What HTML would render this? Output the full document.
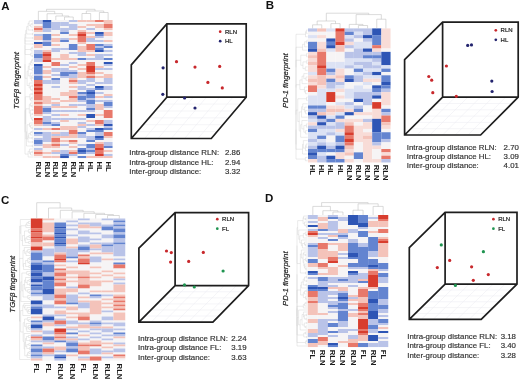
<!DOCTYPE html>
<html><head><meta charset="utf-8"><title>Figure</title>
<style>
html,body{margin:0;padding:0;background:#fff;}
body{width:520px;height:379px;overflow:hidden;}
svg{display:block;will-change:transform;}
text{font-family:"Liberation Sans",sans-serif;}
</style></head>
<body>
<svg width="520" height="379" viewBox="0 0 520 379" shape-rendering="auto">
<defs><filter id="hb" x="-5%" y="-5%" width="110%" height="110%"><feGaussianBlur stdDeviation="0.45"/></filter></defs>
<rect width="520" height="379" fill="#fff"/>
<g filter="url(#hb)"><rect x="34.00" y="20.00" width="8.77" height="4.05" fill="#b9c3e8"/>
<rect x="34.00" y="24.00" width="8.77" height="2.05" fill="#f6f4f5"/>
<rect x="34.00" y="26.00" width="8.77" height="2.05" fill="#f4c3ba"/>
<rect x="34.00" y="28.00" width="8.77" height="2.05" fill="#e8786a"/>
<rect x="34.00" y="30.00" width="8.77" height="2.05" fill="#f4c3ba"/>
<rect x="34.00" y="32.00" width="8.77" height="2.05" fill="#f6f4f5"/>
<rect x="34.00" y="34.00" width="8.77" height="2.05" fill="#b9c3e8"/>
<rect x="34.00" y="36.00" width="8.77" height="4.05" fill="#f4c3ba"/>
<rect x="34.00" y="40.00" width="8.77" height="2.05" fill="#f6f4f5"/>
<rect x="34.00" y="42.00" width="8.77" height="2.05" fill="#2d55b5"/>
<rect x="34.00" y="44.00" width="8.77" height="4.05" fill="#f4c3ba"/>
<rect x="34.00" y="48.00" width="8.77" height="2.05" fill="#f6f4f5"/>
<rect x="34.00" y="50.00" width="8.77" height="4.05" fill="#b9c3e8"/>
<rect x="34.00" y="54.00" width="8.77" height="4.05" fill="#6384d0"/>
<rect x="34.00" y="58.00" width="8.77" height="4.05" fill="#b9c3e8"/>
<rect x="34.00" y="62.00" width="8.77" height="2.05" fill="#f6f4f5"/>
<rect x="34.00" y="64.00" width="8.77" height="2.05" fill="#2d55b5"/>
<rect x="34.00" y="66.00" width="8.77" height="8.05" fill="#6384d0"/>
<rect x="34.00" y="74.00" width="8.77" height="2.05" fill="#b9c3e8"/>
<rect x="34.00" y="76.00" width="8.77" height="4.05" fill="#6384d0"/>
<rect x="34.00" y="80.00" width="8.77" height="4.05" fill="#e8786a"/>
<rect x="34.00" y="84.00" width="8.77" height="2.05" fill="#d83e2d"/>
<rect x="34.00" y="86.00" width="8.77" height="2.05" fill="#e8786a"/>
<rect x="34.00" y="88.00" width="8.77" height="2.05" fill="#d83e2d"/>
<rect x="34.00" y="90.00" width="8.77" height="2.05" fill="#e8786a"/>
<rect x="34.00" y="92.00" width="8.77" height="2.05" fill="#d83e2d"/>
<rect x="34.00" y="94.00" width="8.77" height="6.05" fill="#e8786a"/>
<rect x="34.00" y="100.00" width="8.77" height="2.05" fill="#f4c3ba"/>
<rect x="34.00" y="102.00" width="8.77" height="2.05" fill="#e8786a"/>
<rect x="34.00" y="104.00" width="8.77" height="2.05" fill="#f4c3ba"/>
<rect x="34.00" y="106.00" width="8.77" height="8.05" fill="#e8786a"/>
<rect x="34.00" y="114.00" width="8.77" height="2.05" fill="#f4c3ba"/>
<rect x="34.00" y="116.00" width="8.77" height="2.05" fill="#f6f4f5"/>
<rect x="34.00" y="118.00" width="8.77" height="2.05" fill="#d83e2d"/>
<rect x="34.00" y="120.00" width="8.77" height="4.05" fill="#e8786a"/>
<rect x="34.00" y="124.00" width="8.77" height="2.05" fill="#f4c3ba"/>
<rect x="34.00" y="126.00" width="8.77" height="2.05" fill="#f6f4f5"/>
<rect x="34.00" y="128.00" width="8.77" height="2.05" fill="#b9c3e8"/>
<rect x="34.00" y="130.00" width="8.77" height="2.05" fill="#f6f4f5"/>
<rect x="34.00" y="132.00" width="8.77" height="2.05" fill="#6384d0"/>
<rect x="34.00" y="134.00" width="8.77" height="2.05" fill="#b9c3e8"/>
<rect x="34.00" y="136.00" width="8.77" height="2.05" fill="#f6f4f5"/>
<rect x="34.00" y="138.00" width="8.77" height="2.05" fill="#b9c3e8"/>
<rect x="34.00" y="140.00" width="8.77" height="4.05" fill="#6384d0"/>
<rect x="34.00" y="144.00" width="8.77" height="2.05" fill="#b9c3e8"/>
<rect x="34.00" y="146.00" width="8.77" height="2.05" fill="#f6f4f5"/>
<rect x="34.00" y="148.00" width="8.77" height="2.05" fill="#b9c3e8"/>
<rect x="34.00" y="150.00" width="8.77" height="2.05" fill="#f4c3ba"/>
<rect x="34.00" y="152.00" width="8.77" height="2.05" fill="#e8786a"/>
<rect x="34.00" y="154.00" width="8.77" height="2.05" fill="#f4c3ba"/>
<rect x="34.00" y="156.00" width="8.77" height="2.05" fill="#f6f4f5"/>
<rect x="42.72" y="20.00" width="8.77" height="2.05" fill="#2d55b5"/>
<rect x="42.72" y="22.00" width="8.77" height="6.05" fill="#6384d0"/>
<rect x="42.72" y="28.00" width="8.77" height="4.05" fill="#b9c3e8"/>
<rect x="42.72" y="32.00" width="8.77" height="2.05" fill="#f6f4f5"/>
<rect x="42.72" y="34.00" width="8.77" height="6.05" fill="#6384d0"/>
<rect x="42.72" y="40.00" width="8.77" height="2.05" fill="#b9c3e8"/>
<rect x="42.72" y="42.00" width="8.77" height="4.05" fill="#6384d0"/>
<rect x="42.72" y="46.00" width="8.77" height="4.05" fill="#f6f4f5"/>
<rect x="42.72" y="50.00" width="8.77" height="2.05" fill="#f4c3ba"/>
<rect x="42.72" y="52.00" width="8.77" height="2.05" fill="#e8786a"/>
<rect x="42.72" y="54.00" width="8.77" height="2.05" fill="#d83e2d"/>
<rect x="42.72" y="56.00" width="8.77" height="4.05" fill="#e8786a"/>
<rect x="42.72" y="60.00" width="8.77" height="2.05" fill="#d83e2d"/>
<rect x="42.72" y="62.00" width="8.77" height="4.05" fill="#f6f4f5"/>
<rect x="42.72" y="66.00" width="8.77" height="2.05" fill="#f4c3ba"/>
<rect x="42.72" y="68.00" width="8.77" height="2.05" fill="#f6f4f5"/>
<rect x="42.72" y="70.00" width="8.77" height="4.05" fill="#f4c3ba"/>
<rect x="42.72" y="74.00" width="8.77" height="2.05" fill="#f6f4f5"/>
<rect x="42.72" y="76.00" width="8.77" height="2.05" fill="#f4c3ba"/>
<rect x="42.72" y="78.00" width="8.77" height="2.05" fill="#f6f4f5"/>
<rect x="42.72" y="80.00" width="8.77" height="4.05" fill="#b9c3e8"/>
<rect x="42.72" y="84.00" width="8.77" height="12.05" fill="#f6f4f5"/>
<rect x="42.72" y="96.00" width="8.77" height="8.05" fill="#f4c3ba"/>
<rect x="42.72" y="104.00" width="8.77" height="2.05" fill="#f6f4f5"/>
<rect x="42.72" y="106.00" width="8.77" height="2.05" fill="#b9c3e8"/>
<rect x="42.72" y="108.00" width="8.77" height="4.05" fill="#6384d0"/>
<rect x="42.72" y="112.00" width="8.77" height="2.05" fill="#b9c3e8"/>
<rect x="42.72" y="114.00" width="8.77" height="2.05" fill="#f6f4f5"/>
<rect x="42.72" y="116.00" width="8.77" height="6.05" fill="#b9c3e8"/>
<rect x="42.72" y="122.00" width="8.77" height="2.05" fill="#6384d0"/>
<rect x="42.72" y="124.00" width="8.77" height="2.05" fill="#b9c3e8"/>
<rect x="42.72" y="126.00" width="8.77" height="2.05" fill="#f6f4f5"/>
<rect x="42.72" y="128.00" width="8.77" height="2.05" fill="#f4c3ba"/>
<rect x="42.72" y="130.00" width="8.77" height="2.05" fill="#f6f4f5"/>
<rect x="42.72" y="132.00" width="8.77" height="10.05" fill="#b9c3e8"/>
<rect x="42.72" y="142.00" width="8.77" height="2.05" fill="#f6f4f5"/>
<rect x="42.72" y="144.00" width="8.77" height="4.05" fill="#f4c3ba"/>
<rect x="42.72" y="148.00" width="8.77" height="4.05" fill="#f6f4f5"/>
<rect x="42.72" y="152.00" width="8.77" height="2.05" fill="#f4c3ba"/>
<rect x="42.72" y="154.00" width="8.77" height="2.05" fill="#f6f4f5"/>
<rect x="42.72" y="156.00" width="8.77" height="2.05" fill="#f4c3ba"/>
<rect x="51.44" y="20.00" width="8.77" height="2.05" fill="#f6f4f5"/>
<rect x="51.44" y="22.00" width="8.77" height="8.05" fill="#b9c3e8"/>
<rect x="51.44" y="30.00" width="8.77" height="4.05" fill="#f6f4f5"/>
<rect x="51.44" y="34.00" width="8.77" height="2.05" fill="#f4c3ba"/>
<rect x="51.44" y="36.00" width="8.77" height="2.05" fill="#f6f4f5"/>
<rect x="51.44" y="38.00" width="8.77" height="4.05" fill="#f4c3ba"/>
<rect x="51.44" y="42.00" width="8.77" height="2.05" fill="#f6f4f5"/>
<rect x="51.44" y="44.00" width="8.77" height="2.05" fill="#f4c3ba"/>
<rect x="51.44" y="46.00" width="8.77" height="2.05" fill="#f6f4f5"/>
<rect x="51.44" y="48.00" width="8.77" height="4.05" fill="#b9c3e8"/>
<rect x="51.44" y="52.00" width="8.77" height="6.05" fill="#f6f4f5"/>
<rect x="51.44" y="58.00" width="8.77" height="2.05" fill="#f4c3ba"/>
<rect x="51.44" y="60.00" width="8.77" height="2.05" fill="#f6f4f5"/>
<rect x="51.44" y="62.00" width="8.77" height="4.05" fill="#e8786a"/>
<rect x="51.44" y="66.00" width="8.77" height="2.05" fill="#f6f4f5"/>
<rect x="51.44" y="68.00" width="8.77" height="4.05" fill="#b9c3e8"/>
<rect x="51.44" y="72.00" width="8.77" height="2.05" fill="#f6f4f5"/>
<rect x="51.44" y="74.00" width="8.77" height="2.05" fill="#b9c3e8"/>
<rect x="51.44" y="76.00" width="8.77" height="2.05" fill="#f6f4f5"/>
<rect x="51.44" y="78.00" width="8.77" height="2.05" fill="#6384d0"/>
<rect x="51.44" y="80.00" width="8.77" height="4.05" fill="#b9c3e8"/>
<rect x="51.44" y="84.00" width="8.77" height="2.05" fill="#f6f4f5"/>
<rect x="51.44" y="86.00" width="8.77" height="2.05" fill="#b9c3e8"/>
<rect x="51.44" y="88.00" width="8.77" height="10.05" fill="#f6f4f5"/>
<rect x="51.44" y="98.00" width="8.77" height="2.05" fill="#f4c3ba"/>
<rect x="51.44" y="100.00" width="8.77" height="2.05" fill="#f6f4f5"/>
<rect x="51.44" y="102.00" width="8.77" height="2.05" fill="#f4c3ba"/>
<rect x="51.44" y="104.00" width="8.77" height="2.05" fill="#b9c3e8"/>
<rect x="51.44" y="106.00" width="8.77" height="2.05" fill="#f4c3ba"/>
<rect x="51.44" y="108.00" width="8.77" height="2.05" fill="#f6f4f5"/>
<rect x="51.44" y="110.00" width="8.77" height="2.05" fill="#b9c3e8"/>
<rect x="51.44" y="112.00" width="8.77" height="2.05" fill="#f6f4f5"/>
<rect x="51.44" y="114.00" width="8.77" height="2.05" fill="#b9c3e8"/>
<rect x="51.44" y="116.00" width="8.77" height="2.05" fill="#f6f4f5"/>
<rect x="51.44" y="118.00" width="8.77" height="2.05" fill="#b9c3e8"/>
<rect x="51.44" y="120.00" width="8.77" height="2.05" fill="#f6f4f5"/>
<rect x="51.44" y="122.00" width="8.77" height="2.05" fill="#b9c3e8"/>
<rect x="51.44" y="124.00" width="8.77" height="2.05" fill="#6384d0"/>
<rect x="51.44" y="126.00" width="8.77" height="2.05" fill="#f6f4f5"/>
<rect x="51.44" y="128.00" width="8.77" height="2.05" fill="#e8786a"/>
<rect x="51.44" y="130.00" width="8.77" height="2.05" fill="#f6f4f5"/>
<rect x="51.44" y="132.00" width="8.77" height="2.05" fill="#f4c3ba"/>
<rect x="51.44" y="134.00" width="8.77" height="2.05" fill="#b9c3e8"/>
<rect x="51.44" y="136.00" width="8.77" height="2.05" fill="#f4c3ba"/>
<rect x="51.44" y="138.00" width="8.77" height="4.05" fill="#e8786a"/>
<rect x="51.44" y="142.00" width="8.77" height="2.05" fill="#f4c3ba"/>
<rect x="51.44" y="144.00" width="8.77" height="2.05" fill="#e8786a"/>
<rect x="51.44" y="146.00" width="8.77" height="2.05" fill="#f4c3ba"/>
<rect x="51.44" y="148.00" width="8.77" height="2.05" fill="#f6f4f5"/>
<rect x="51.44" y="150.00" width="8.77" height="2.05" fill="#f4c3ba"/>
<rect x="51.44" y="152.00" width="8.77" height="2.05" fill="#b9c3e8"/>
<rect x="51.44" y="154.00" width="8.77" height="2.05" fill="#f6f4f5"/>
<rect x="51.44" y="156.00" width="8.77" height="2.05" fill="#f4c3ba"/>
<rect x="60.17" y="20.00" width="8.77" height="2.05" fill="#f6f4f5"/>
<rect x="60.17" y="22.00" width="8.77" height="4.05" fill="#b9c3e8"/>
<rect x="60.17" y="26.00" width="8.77" height="2.05" fill="#f6f4f5"/>
<rect x="60.17" y="28.00" width="8.77" height="4.05" fill="#b9c3e8"/>
<rect x="60.17" y="32.00" width="8.77" height="2.05" fill="#6384d0"/>
<rect x="60.17" y="34.00" width="8.77" height="4.05" fill="#f6f4f5"/>
<rect x="60.17" y="38.00" width="8.77" height="2.05" fill="#b9c3e8"/>
<rect x="60.17" y="40.00" width="8.77" height="2.05" fill="#6384d0"/>
<rect x="60.17" y="42.00" width="8.77" height="6.05" fill="#f6f4f5"/>
<rect x="60.17" y="48.00" width="8.77" height="2.05" fill="#b9c3e8"/>
<rect x="60.17" y="50.00" width="8.77" height="4.05" fill="#f6f4f5"/>
<rect x="60.17" y="54.00" width="8.77" height="6.05" fill="#f4c3ba"/>
<rect x="60.17" y="60.00" width="8.77" height="4.05" fill="#f6f4f5"/>
<rect x="60.17" y="64.00" width="8.77" height="2.05" fill="#b9c3e8"/>
<rect x="60.17" y="66.00" width="8.77" height="2.05" fill="#f6f4f5"/>
<rect x="60.17" y="68.00" width="8.77" height="4.05" fill="#b9c3e8"/>
<rect x="60.17" y="72.00" width="8.77" height="4.05" fill="#6384d0"/>
<rect x="60.17" y="76.00" width="8.77" height="2.05" fill="#b9c3e8"/>
<rect x="60.17" y="78.00" width="8.77" height="14.05" fill="#f6f4f5"/>
<rect x="60.17" y="92.00" width="8.77" height="4.05" fill="#f4c3ba"/>
<rect x="60.17" y="96.00" width="8.77" height="4.05" fill="#f6f4f5"/>
<rect x="60.17" y="100.00" width="8.77" height="2.05" fill="#f4c3ba"/>
<rect x="60.17" y="102.00" width="8.77" height="4.05" fill="#f6f4f5"/>
<rect x="60.17" y="106.00" width="8.77" height="2.05" fill="#f4c3ba"/>
<rect x="60.17" y="108.00" width="8.77" height="2.05" fill="#f6f4f5"/>
<rect x="60.17" y="110.00" width="8.77" height="2.05" fill="#b9c3e8"/>
<rect x="60.17" y="112.00" width="8.77" height="2.05" fill="#f6f4f5"/>
<rect x="60.17" y="114.00" width="8.77" height="2.05" fill="#f4c3ba"/>
<rect x="60.17" y="116.00" width="8.77" height="2.05" fill="#f6f4f5"/>
<rect x="60.17" y="118.00" width="8.77" height="2.05" fill="#b9c3e8"/>
<rect x="60.17" y="120.00" width="8.77" height="2.05" fill="#f4c3ba"/>
<rect x="60.17" y="122.00" width="8.77" height="4.05" fill="#f6f4f5"/>
<rect x="60.17" y="126.00" width="8.77" height="4.05" fill="#f4c3ba"/>
<rect x="60.17" y="130.00" width="8.77" height="2.05" fill="#f6f4f5"/>
<rect x="60.17" y="132.00" width="8.77" height="4.05" fill="#b9c3e8"/>
<rect x="60.17" y="136.00" width="8.77" height="2.05" fill="#f4c3ba"/>
<rect x="60.17" y="138.00" width="8.77" height="2.05" fill="#f6f4f5"/>
<rect x="60.17" y="140.00" width="8.77" height="2.05" fill="#f4c3ba"/>
<rect x="60.17" y="142.00" width="8.77" height="2.05" fill="#f6f4f5"/>
<rect x="60.17" y="144.00" width="8.77" height="2.05" fill="#b9c3e8"/>
<rect x="60.17" y="146.00" width="8.77" height="4.05" fill="#f6f4f5"/>
<rect x="60.17" y="150.00" width="8.77" height="4.05" fill="#b9c3e8"/>
<rect x="60.17" y="154.00" width="8.77" height="2.05" fill="#6384d0"/>
<rect x="60.17" y="156.00" width="8.77" height="2.05" fill="#2d55b5"/>
<rect x="68.89" y="20.00" width="8.77" height="2.05" fill="#b9c3e8"/>
<rect x="68.89" y="22.00" width="8.77" height="2.05" fill="#f6f4f5"/>
<rect x="68.89" y="24.00" width="8.77" height="6.05" fill="#b9c3e8"/>
<rect x="68.89" y="30.00" width="8.77" height="4.05" fill="#f6f4f5"/>
<rect x="68.89" y="34.00" width="8.77" height="2.05" fill="#f4c3ba"/>
<rect x="68.89" y="36.00" width="8.77" height="2.05" fill="#f6f4f5"/>
<rect x="68.89" y="38.00" width="8.77" height="2.05" fill="#f4c3ba"/>
<rect x="68.89" y="40.00" width="8.77" height="4.05" fill="#f6f4f5"/>
<rect x="68.89" y="44.00" width="8.77" height="6.05" fill="#6384d0"/>
<rect x="68.89" y="50.00" width="8.77" height="2.05" fill="#f6f4f5"/>
<rect x="68.89" y="52.00" width="8.77" height="2.05" fill="#b9c3e8"/>
<rect x="68.89" y="54.00" width="8.77" height="4.05" fill="#f6f4f5"/>
<rect x="68.89" y="58.00" width="8.77" height="2.05" fill="#f4c3ba"/>
<rect x="68.89" y="60.00" width="8.77" height="2.05" fill="#f6f4f5"/>
<rect x="68.89" y="62.00" width="8.77" height="2.05" fill="#b9c3e8"/>
<rect x="68.89" y="64.00" width="8.77" height="2.05" fill="#f6f4f5"/>
<rect x="68.89" y="66.00" width="8.77" height="2.05" fill="#f4c3ba"/>
<rect x="68.89" y="68.00" width="8.77" height="2.05" fill="#f6f4f5"/>
<rect x="68.89" y="70.00" width="8.77" height="2.05" fill="#b9c3e8"/>
<rect x="68.89" y="72.00" width="8.77" height="2.05" fill="#6384d0"/>
<rect x="68.89" y="74.00" width="8.77" height="4.05" fill="#b9c3e8"/>
<rect x="68.89" y="78.00" width="8.77" height="2.05" fill="#f4c3ba"/>
<rect x="68.89" y="80.00" width="8.77" height="2.05" fill="#e8786a"/>
<rect x="68.89" y="82.00" width="8.77" height="2.05" fill="#f4c3ba"/>
<rect x="68.89" y="84.00" width="8.77" height="2.05" fill="#f6f4f5"/>
<rect x="68.89" y="86.00" width="8.77" height="2.05" fill="#f4c3ba"/>
<rect x="68.89" y="88.00" width="8.77" height="2.05" fill="#f6f4f5"/>
<rect x="68.89" y="90.00" width="8.77" height="6.05" fill="#f4c3ba"/>
<rect x="68.89" y="96.00" width="8.77" height="2.05" fill="#e8786a"/>
<rect x="68.89" y="98.00" width="8.77" height="4.05" fill="#f4c3ba"/>
<rect x="68.89" y="102.00" width="8.77" height="2.05" fill="#f6f4f5"/>
<rect x="68.89" y="104.00" width="8.77" height="2.05" fill="#b9c3e8"/>
<rect x="68.89" y="106.00" width="8.77" height="2.05" fill="#f4c3ba"/>
<rect x="68.89" y="108.00" width="8.77" height="2.05" fill="#f6f4f5"/>
<rect x="68.89" y="110.00" width="8.77" height="2.05" fill="#b9c3e8"/>
<rect x="68.89" y="112.00" width="8.77" height="6.05" fill="#f6f4f5"/>
<rect x="68.89" y="118.00" width="8.77" height="2.05" fill="#b9c3e8"/>
<rect x="68.89" y="120.00" width="8.77" height="6.05" fill="#f6f4f5"/>
<rect x="68.89" y="126.00" width="8.77" height="4.05" fill="#f4c3ba"/>
<rect x="68.89" y="130.00" width="8.77" height="4.05" fill="#e8786a"/>
<rect x="68.89" y="134.00" width="8.77" height="4.05" fill="#f4c3ba"/>
<rect x="68.89" y="138.00" width="8.77" height="2.05" fill="#f6f4f5"/>
<rect x="68.89" y="140.00" width="8.77" height="2.05" fill="#e8786a"/>
<rect x="68.89" y="142.00" width="8.77" height="2.05" fill="#f4c3ba"/>
<rect x="68.89" y="144.00" width="8.77" height="2.05" fill="#f6f4f5"/>
<rect x="68.89" y="146.00" width="8.77" height="2.05" fill="#f4c3ba"/>
<rect x="68.89" y="148.00" width="8.77" height="2.05" fill="#f6f4f5"/>
<rect x="68.89" y="150.00" width="8.77" height="2.05" fill="#f4c3ba"/>
<rect x="68.89" y="152.00" width="8.77" height="2.05" fill="#e8786a"/>
<rect x="68.89" y="154.00" width="8.77" height="2.05" fill="#b9c3e8"/>
<rect x="68.89" y="156.00" width="8.77" height="2.05" fill="#f6f4f5"/>
<rect x="77.61" y="20.00" width="8.77" height="2.05" fill="#f4c3ba"/>
<rect x="77.61" y="22.00" width="8.77" height="4.05" fill="#f6f4f5"/>
<rect x="77.61" y="26.00" width="8.77" height="2.05" fill="#f4c3ba"/>
<rect x="77.61" y="28.00" width="8.77" height="2.05" fill="#f6f4f5"/>
<rect x="77.61" y="30.00" width="8.77" height="2.05" fill="#f4c3ba"/>
<rect x="77.61" y="32.00" width="8.77" height="2.05" fill="#e8786a"/>
<rect x="77.61" y="34.00" width="8.77" height="2.05" fill="#d83e2d"/>
<rect x="77.61" y="36.00" width="8.77" height="6.05" fill="#e8786a"/>
<rect x="77.61" y="42.00" width="8.77" height="2.05" fill="#f4c3ba"/>
<rect x="77.61" y="44.00" width="8.77" height="2.05" fill="#f6f4f5"/>
<rect x="77.61" y="46.00" width="8.77" height="6.05" fill="#f4c3ba"/>
<rect x="77.61" y="52.00" width="8.77" height="4.05" fill="#b9c3e8"/>
<rect x="77.61" y="56.00" width="8.77" height="2.05" fill="#f6f4f5"/>
<rect x="77.61" y="58.00" width="8.77" height="2.05" fill="#6384d0"/>
<rect x="77.61" y="60.00" width="8.77" height="4.05" fill="#f6f4f5"/>
<rect x="77.61" y="64.00" width="8.77" height="2.05" fill="#f4c3ba"/>
<rect x="77.61" y="66.00" width="8.77" height="2.05" fill="#f6f4f5"/>
<rect x="77.61" y="68.00" width="8.77" height="2.05" fill="#f4c3ba"/>
<rect x="77.61" y="70.00" width="8.77" height="2.05" fill="#f6f4f5"/>
<rect x="77.61" y="72.00" width="8.77" height="6.05" fill="#f4c3ba"/>
<rect x="77.61" y="78.00" width="8.77" height="2.05" fill="#f6f4f5"/>
<rect x="77.61" y="80.00" width="8.77" height="4.05" fill="#b9c3e8"/>
<rect x="77.61" y="84.00" width="8.77" height="2.05" fill="#f6f4f5"/>
<rect x="77.61" y="86.00" width="8.77" height="4.05" fill="#b9c3e8"/>
<rect x="77.61" y="90.00" width="8.77" height="2.05" fill="#f6f4f5"/>
<rect x="77.61" y="92.00" width="8.77" height="2.05" fill="#6384d0"/>
<rect x="77.61" y="94.00" width="8.77" height="2.05" fill="#b9c3e8"/>
<rect x="77.61" y="96.00" width="8.77" height="4.05" fill="#6384d0"/>
<rect x="77.61" y="100.00" width="8.77" height="2.05" fill="#b9c3e8"/>
<rect x="77.61" y="102.00" width="8.77" height="2.05" fill="#f6f4f5"/>
<rect x="77.61" y="104.00" width="8.77" height="2.05" fill="#b9c3e8"/>
<rect x="77.61" y="106.00" width="8.77" height="4.05" fill="#f6f4f5"/>
<rect x="77.61" y="110.00" width="8.77" height="2.05" fill="#b9c3e8"/>
<rect x="77.61" y="112.00" width="8.77" height="2.05" fill="#f6f4f5"/>
<rect x="77.61" y="114.00" width="8.77" height="2.05" fill="#f4c3ba"/>
<rect x="77.61" y="116.00" width="8.77" height="2.05" fill="#f6f4f5"/>
<rect x="77.61" y="118.00" width="8.77" height="2.05" fill="#b9c3e8"/>
<rect x="77.61" y="120.00" width="8.77" height="2.05" fill="#f6f4f5"/>
<rect x="77.61" y="122.00" width="8.77" height="2.05" fill="#b9c3e8"/>
<rect x="77.61" y="124.00" width="8.77" height="2.05" fill="#f4c3ba"/>
<rect x="77.61" y="126.00" width="8.77" height="2.05" fill="#b9c3e8"/>
<rect x="77.61" y="128.00" width="8.77" height="4.05" fill="#f6f4f5"/>
<rect x="77.61" y="132.00" width="8.77" height="2.05" fill="#6384d0"/>
<rect x="77.61" y="134.00" width="8.77" height="4.05" fill="#b9c3e8"/>
<rect x="77.61" y="138.00" width="8.77" height="6.05" fill="#f6f4f5"/>
<rect x="77.61" y="144.00" width="8.77" height="2.05" fill="#b9c3e8"/>
<rect x="77.61" y="146.00" width="8.77" height="2.05" fill="#f6f4f5"/>
<rect x="77.61" y="148.00" width="8.77" height="2.05" fill="#6384d0"/>
<rect x="77.61" y="150.00" width="8.77" height="2.05" fill="#2d55b5"/>
<rect x="77.61" y="152.00" width="8.77" height="2.05" fill="#6384d0"/>
<rect x="77.61" y="154.00" width="8.77" height="2.05" fill="#f6f4f5"/>
<rect x="77.61" y="156.00" width="8.77" height="2.05" fill="#6384d0"/>
<rect x="86.33" y="20.00" width="8.77" height="2.05" fill="#f4c3ba"/>
<rect x="86.33" y="22.00" width="8.77" height="2.05" fill="#f6f4f5"/>
<rect x="86.33" y="24.00" width="8.77" height="2.05" fill="#f4c3ba"/>
<rect x="86.33" y="26.00" width="8.77" height="2.05" fill="#f6f4f5"/>
<rect x="86.33" y="28.00" width="8.77" height="2.05" fill="#b9c3e8"/>
<rect x="86.33" y="30.00" width="8.77" height="2.05" fill="#f6f4f5"/>
<rect x="86.33" y="32.00" width="8.77" height="2.05" fill="#f4c3ba"/>
<rect x="86.33" y="34.00" width="8.77" height="2.05" fill="#f6f4f5"/>
<rect x="86.33" y="36.00" width="8.77" height="2.05" fill="#f4c3ba"/>
<rect x="86.33" y="38.00" width="8.77" height="4.05" fill="#b9c3e8"/>
<rect x="86.33" y="42.00" width="8.77" height="2.05" fill="#f6f4f5"/>
<rect x="86.33" y="44.00" width="8.77" height="6.05" fill="#e8786a"/>
<rect x="86.33" y="50.00" width="8.77" height="2.05" fill="#f4c3ba"/>
<rect x="86.33" y="52.00" width="8.77" height="2.05" fill="#f6f4f5"/>
<rect x="86.33" y="54.00" width="8.77" height="2.05" fill="#f4c3ba"/>
<rect x="86.33" y="56.00" width="8.77" height="2.05" fill="#f6f4f5"/>
<rect x="86.33" y="58.00" width="8.77" height="2.05" fill="#b9c3e8"/>
<rect x="86.33" y="60.00" width="8.77" height="2.05" fill="#f6f4f5"/>
<rect x="86.33" y="62.00" width="8.77" height="4.05" fill="#e8786a"/>
<rect x="86.33" y="66.00" width="8.77" height="6.05" fill="#d83e2d"/>
<rect x="86.33" y="72.00" width="8.77" height="2.05" fill="#e8786a"/>
<rect x="86.33" y="74.00" width="8.77" height="2.05" fill="#f4c3ba"/>
<rect x="86.33" y="76.00" width="8.77" height="2.05" fill="#e8786a"/>
<rect x="86.33" y="78.00" width="8.77" height="4.05" fill="#b9c3e8"/>
<rect x="86.33" y="82.00" width="8.77" height="2.05" fill="#f6f4f5"/>
<rect x="86.33" y="84.00" width="8.77" height="2.05" fill="#b9c3e8"/>
<rect x="86.33" y="86.00" width="8.77" height="2.05" fill="#f6f4f5"/>
<rect x="86.33" y="88.00" width="8.77" height="2.05" fill="#b9c3e8"/>
<rect x="86.33" y="90.00" width="8.77" height="2.05" fill="#6384d0"/>
<rect x="86.33" y="92.00" width="8.77" height="2.05" fill="#2d55b5"/>
<rect x="86.33" y="94.00" width="8.77" height="4.05" fill="#6384d0"/>
<rect x="86.33" y="98.00" width="8.77" height="2.05" fill="#b9c3e8"/>
<rect x="86.33" y="100.00" width="8.77" height="4.05" fill="#6384d0"/>
<rect x="86.33" y="104.00" width="8.77" height="4.05" fill="#b9c3e8"/>
<rect x="86.33" y="108.00" width="8.77" height="2.05" fill="#6384d0"/>
<rect x="86.33" y="110.00" width="8.77" height="2.05" fill="#b9c3e8"/>
<rect x="86.33" y="112.00" width="8.77" height="2.05" fill="#f6f4f5"/>
<rect x="86.33" y="114.00" width="8.77" height="4.05" fill="#2d55b5"/>
<rect x="86.33" y="118.00" width="8.77" height="2.05" fill="#f6f4f5"/>
<rect x="86.33" y="120.00" width="8.77" height="2.05" fill="#f4c3ba"/>
<rect x="86.33" y="122.00" width="8.77" height="2.05" fill="#f6f4f5"/>
<rect x="86.33" y="124.00" width="8.77" height="2.05" fill="#b9c3e8"/>
<rect x="86.33" y="126.00" width="8.77" height="2.05" fill="#f6f4f5"/>
<rect x="86.33" y="128.00" width="8.77" height="2.05" fill="#b9c3e8"/>
<rect x="86.33" y="130.00" width="8.77" height="2.05" fill="#6384d0"/>
<rect x="86.33" y="132.00" width="8.77" height="4.05" fill="#f6f4f5"/>
<rect x="86.33" y="136.00" width="8.77" height="4.05" fill="#b9c3e8"/>
<rect x="86.33" y="140.00" width="8.77" height="2.05" fill="#6384d0"/>
<rect x="86.33" y="142.00" width="8.77" height="2.05" fill="#f6f4f5"/>
<rect x="86.33" y="144.00" width="8.77" height="4.05" fill="#6384d0"/>
<rect x="86.33" y="148.00" width="8.77" height="2.05" fill="#b9c3e8"/>
<rect x="86.33" y="150.00" width="8.77" height="2.05" fill="#6384d0"/>
<rect x="86.33" y="152.00" width="8.77" height="2.05" fill="#b9c3e8"/>
<rect x="86.33" y="154.00" width="8.77" height="2.05" fill="#f6f4f5"/>
<rect x="86.33" y="156.00" width="8.77" height="2.05" fill="#f4c3ba"/>
<rect x="95.06" y="20.00" width="8.77" height="2.05" fill="#e8786a"/>
<rect x="95.06" y="22.00" width="8.77" height="2.05" fill="#f6f4f5"/>
<rect x="95.06" y="24.00" width="8.77" height="4.05" fill="#f4c3ba"/>
<rect x="95.06" y="28.00" width="8.77" height="4.05" fill="#f6f4f5"/>
<rect x="95.06" y="32.00" width="8.77" height="2.05" fill="#2d55b5"/>
<rect x="95.06" y="34.00" width="8.77" height="2.05" fill="#6384d0"/>
<rect x="95.06" y="36.00" width="8.77" height="2.05" fill="#b9c3e8"/>
<rect x="95.06" y="38.00" width="8.77" height="2.05" fill="#f6f4f5"/>
<rect x="95.06" y="40.00" width="8.77" height="2.05" fill="#b9c3e8"/>
<rect x="95.06" y="42.00" width="8.77" height="2.05" fill="#f6f4f5"/>
<rect x="95.06" y="44.00" width="8.77" height="2.05" fill="#6384d0"/>
<rect x="95.06" y="46.00" width="8.77" height="2.05" fill="#b9c3e8"/>
<rect x="95.06" y="48.00" width="8.77" height="2.05" fill="#6384d0"/>
<rect x="95.06" y="50.00" width="8.77" height="2.05" fill="#2d55b5"/>
<rect x="95.06" y="52.00" width="8.77" height="2.05" fill="#f6f4f5"/>
<rect x="95.06" y="54.00" width="8.77" height="6.05" fill="#b9c3e8"/>
<rect x="95.06" y="60.00" width="8.77" height="6.05" fill="#f6f4f5"/>
<rect x="95.06" y="66.00" width="8.77" height="2.05" fill="#f4c3ba"/>
<rect x="95.06" y="68.00" width="8.77" height="2.05" fill="#b9c3e8"/>
<rect x="95.06" y="70.00" width="8.77" height="2.05" fill="#f6f4f5"/>
<rect x="95.06" y="72.00" width="8.77" height="2.05" fill="#f4c3ba"/>
<rect x="95.06" y="74.00" width="8.77" height="2.05" fill="#f6f4f5"/>
<rect x="95.06" y="76.00" width="8.77" height="2.05" fill="#f4c3ba"/>
<rect x="95.06" y="78.00" width="8.77" height="4.05" fill="#f6f4f5"/>
<rect x="95.06" y="82.00" width="8.77" height="2.05" fill="#b9c3e8"/>
<rect x="95.06" y="84.00" width="8.77" height="2.05" fill="#f6f4f5"/>
<rect x="95.06" y="86.00" width="8.77" height="2.05" fill="#2d55b5"/>
<rect x="95.06" y="88.00" width="8.77" height="2.05" fill="#6384d0"/>
<rect x="95.06" y="90.00" width="8.77" height="2.05" fill="#f6f4f5"/>
<rect x="95.06" y="92.00" width="8.77" height="2.05" fill="#b9c3e8"/>
<rect x="95.06" y="94.00" width="8.77" height="2.05" fill="#f6f4f5"/>
<rect x="95.06" y="96.00" width="8.77" height="2.05" fill="#f4c3ba"/>
<rect x="95.06" y="98.00" width="8.77" height="2.05" fill="#f6f4f5"/>
<rect x="95.06" y="100.00" width="8.77" height="2.05" fill="#b9c3e8"/>
<rect x="95.06" y="102.00" width="8.77" height="2.05" fill="#f6f4f5"/>
<rect x="95.06" y="104.00" width="8.77" height="6.05" fill="#f4c3ba"/>
<rect x="95.06" y="110.00" width="8.77" height="4.05" fill="#f6f4f5"/>
<rect x="95.06" y="114.00" width="8.77" height="2.05" fill="#f4c3ba"/>
<rect x="95.06" y="116.00" width="8.77" height="4.05" fill="#f6f4f5"/>
<rect x="95.06" y="120.00" width="8.77" height="4.05" fill="#e8786a"/>
<rect x="95.06" y="124.00" width="8.77" height="2.05" fill="#f4c3ba"/>
<rect x="95.06" y="126.00" width="8.77" height="2.05" fill="#f6f4f5"/>
<rect x="95.06" y="128.00" width="8.77" height="2.05" fill="#2d55b5"/>
<rect x="95.06" y="130.00" width="8.77" height="2.05" fill="#6384d0"/>
<rect x="95.06" y="132.00" width="8.77" height="4.05" fill="#b9c3e8"/>
<rect x="95.06" y="136.00" width="8.77" height="2.05" fill="#2d55b5"/>
<rect x="95.06" y="138.00" width="8.77" height="2.05" fill="#6384d0"/>
<rect x="95.06" y="140.00" width="8.77" height="2.05" fill="#f6f4f5"/>
<rect x="95.06" y="142.00" width="8.77" height="2.05" fill="#f4c3ba"/>
<rect x="95.06" y="144.00" width="8.77" height="4.05" fill="#e8786a"/>
<rect x="95.06" y="148.00" width="8.77" height="2.05" fill="#d83e2d"/>
<rect x="95.06" y="150.00" width="8.77" height="4.05" fill="#e8786a"/>
<rect x="95.06" y="154.00" width="8.77" height="2.05" fill="#d83e2d"/>
<rect x="95.06" y="156.00" width="8.77" height="2.05" fill="#f4c3ba"/>
<rect x="103.78" y="20.00" width="8.77" height="4.05" fill="#f4c3ba"/>
<rect x="103.78" y="24.00" width="8.77" height="4.05" fill="#e8786a"/>
<rect x="103.78" y="28.00" width="8.77" height="2.05" fill="#f4c3ba"/>
<rect x="103.78" y="30.00" width="8.77" height="2.05" fill="#f6f4f5"/>
<rect x="103.78" y="32.00" width="8.77" height="4.05" fill="#f4c3ba"/>
<rect x="103.78" y="36.00" width="8.77" height="4.05" fill="#f6f4f5"/>
<rect x="103.78" y="40.00" width="8.77" height="2.05" fill="#f4c3ba"/>
<rect x="103.78" y="42.00" width="8.77" height="2.05" fill="#f6f4f5"/>
<rect x="103.78" y="44.00" width="8.77" height="2.05" fill="#b9c3e8"/>
<rect x="103.78" y="46.00" width="8.77" height="2.05" fill="#6384d0"/>
<rect x="103.78" y="48.00" width="8.77" height="2.05" fill="#f6f4f5"/>
<rect x="103.78" y="50.00" width="8.77" height="2.05" fill="#b9c3e8"/>
<rect x="103.78" y="52.00" width="8.77" height="2.05" fill="#f6f4f5"/>
<rect x="103.78" y="54.00" width="8.77" height="2.05" fill="#b9c3e8"/>
<rect x="103.78" y="56.00" width="8.77" height="2.05" fill="#f6f4f5"/>
<rect x="103.78" y="58.00" width="8.77" height="2.05" fill="#6384d0"/>
<rect x="103.78" y="60.00" width="8.77" height="2.05" fill="#f6f4f5"/>
<rect x="103.78" y="62.00" width="8.77" height="2.05" fill="#2d55b5"/>
<rect x="103.78" y="64.00" width="8.77" height="2.05" fill="#b9c3e8"/>
<rect x="103.78" y="66.00" width="8.77" height="2.05" fill="#f6f4f5"/>
<rect x="103.78" y="68.00" width="8.77" height="2.05" fill="#b9c3e8"/>
<rect x="103.78" y="70.00" width="8.77" height="4.05" fill="#f6f4f5"/>
<rect x="103.78" y="74.00" width="8.77" height="4.05" fill="#f4c3ba"/>
<rect x="103.78" y="78.00" width="8.77" height="6.05" fill="#b9c3e8"/>
<rect x="103.78" y="84.00" width="8.77" height="2.05" fill="#f6f4f5"/>
<rect x="103.78" y="86.00" width="8.77" height="4.05" fill="#b9c3e8"/>
<rect x="103.78" y="90.00" width="8.77" height="4.05" fill="#f6f4f5"/>
<rect x="103.78" y="94.00" width="8.77" height="2.05" fill="#f4c3ba"/>
<rect x="103.78" y="96.00" width="8.77" height="2.05" fill="#b9c3e8"/>
<rect x="103.78" y="98.00" width="8.77" height="2.05" fill="#f6f4f5"/>
<rect x="103.78" y="100.00" width="8.77" height="2.05" fill="#b9c3e8"/>
<rect x="103.78" y="102.00" width="8.77" height="4.05" fill="#6384d0"/>
<rect x="103.78" y="106.00" width="8.77" height="2.05" fill="#b9c3e8"/>
<rect x="103.78" y="108.00" width="8.77" height="2.05" fill="#f6f4f5"/>
<rect x="103.78" y="110.00" width="8.77" height="8.05" fill="#e8786a"/>
<rect x="103.78" y="118.00" width="8.77" height="2.05" fill="#f6f4f5"/>
<rect x="103.78" y="120.00" width="8.77" height="4.05" fill="#b9c3e8"/>
<rect x="103.78" y="124.00" width="8.77" height="2.05" fill="#2d55b5"/>
<rect x="103.78" y="126.00" width="8.77" height="2.05" fill="#b9c3e8"/>
<rect x="103.78" y="128.00" width="8.77" height="2.05" fill="#6384d0"/>
<rect x="103.78" y="130.00" width="8.77" height="2.05" fill="#f6f4f5"/>
<rect x="103.78" y="132.00" width="8.77" height="4.05" fill="#e8786a"/>
<rect x="103.78" y="136.00" width="8.77" height="2.05" fill="#f4c3ba"/>
<rect x="103.78" y="138.00" width="8.77" height="4.05" fill="#f6f4f5"/>
<rect x="103.78" y="142.00" width="8.77" height="4.05" fill="#b9c3e8"/>
<rect x="103.78" y="146.00" width="8.77" height="2.05" fill="#6384d0"/>
<rect x="103.78" y="148.00" width="8.77" height="2.05" fill="#f6f4f5"/>
<rect x="103.78" y="150.00" width="8.77" height="2.05" fill="#f4c3ba"/>
<rect x="103.78" y="152.00" width="8.77" height="2.05" fill="#f6f4f5"/>
<rect x="103.78" y="154.00" width="8.77" height="2.05" fill="#b9c3e8"/>
<rect x="103.78" y="156.00" width="8.77" height="2.05" fill="#f4c3ba"/></g>
<path d="M33.60 55.00H32.44V57.00H33.60M33.60 37.00H32.84V39.00H33.60M33.60 151.00H32.19V153.00H33.60M33.60 145.00H32.33V147.00H33.60M33.60 77.00H33.05V79.00H33.60M33.60 23.00H32.02V25.00H33.60M33.60 75.00H32.06V78.00H33.05M33.60 127.00H32.18V129.00H33.60M33.60 119.00H32.60V121.00H33.60M33.60 125.00H30.72V128.00H32.18M33.60 105.00H31.95V107.00H33.60M33.60 67.00H33.13V69.00H33.60M32.02 24.00H30.75V27.00H33.60M33.60 21.00H29.11V25.50H30.75M33.60 85.00H32.28V87.00H33.60M33.60 93.00H32.23V95.00H33.60M33.60 109.00H32.88V111.00H33.60M33.60 97.00H31.96V99.00H33.60M33.60 117.00H31.86V120.00H32.60M33.60 59.00H32.30V61.00H33.60M33.60 103.00H30.29V106.00H31.95M33.60 29.00H32.63V31.00H33.60M33.60 131.00H31.98V133.00H33.60M33.60 43.00H32.93V45.00H33.60M32.06 76.50H31.47V81.00H33.60M33.60 89.00H32.01V91.00H33.60M31.98 132.00H30.34V135.00H33.60M33.60 113.00H32.52V115.00H33.60M32.30 60.00H31.48V63.00H33.60M32.19 152.00H30.50V155.00H33.60M33.60 137.00H32.08V139.00H33.60M33.60 141.00H32.66V143.00H33.60M33.60 33.00H32.55V35.00H33.60M32.52 114.00H30.90V118.50H31.86M31.48 61.50H30.57V65.00H33.60M32.88 110.00H30.36V116.25H30.90M33.60 47.00H32.17V49.00H33.60M32.28 86.00H30.50V90.00H32.01M33.13 68.00H32.07V71.00H33.60M29.11 23.25H28.07V30.00H32.63M30.57 63.25H29.23V69.50H32.07M33.60 123.00H29.52V126.50H30.72M33.60 83.00H29.24V88.00H30.50M32.17 48.00H31.09V51.00H33.60M28.07 26.62H26.65V34.00H32.55M30.34 133.50H28.73V138.00H32.08M28.73 135.75H28.00V142.00H32.66M29.52 124.75H27.12V138.88H28.00M33.60 149.00H29.62V153.50H30.50M33.60 73.00H30.19V78.75H31.47M26.65 30.31H25.72V38.00H32.84M29.62 151.25H28.14V157.00H33.60M29.23 66.38H28.25V75.88H30.19M25.72 34.16H25.00V41.00H33.60M28.25 71.12H27.09V85.50H29.24M33.60 53.00H30.79V56.00H32.44M31.96 98.00H30.90V101.00H33.60M32.23 94.00H29.94V99.50H30.90M25.00 37.58H25.00V44.00H32.93M30.29 104.50H29.27V113.12H30.36M25.00 40.79H25.00V49.50H31.09M27.12 131.81H26.46V146.00H32.33M29.27 108.81H25.80V138.91H26.46M25.00 45.14H25.00V54.50H30.79M29.94 96.75H25.33V123.86H25.80M25.33 110.30H25.00V154.12H28.14M25.00 49.82H25.00V78.31H27.09M25.00 64.07H25.00V132.21H25.00" fill="none" stroke="#d2d2d2" stroke-width="0.45"/>
<path d="M64.53 20.00V17.00H73.25V20.00M55.81 20.00V16.00H68.89V17.00M47.08 20.00V13.70H62.35V16.00M38.36 20.00V11.30H54.72V13.70M81.97 20.00V13.50H90.69V20.00M99.42 20.00V12.50H108.14V20.00M86.33 13.50V11.00H103.78V12.50M46.54 11.30V9.30H95.06V11.00" fill="none" stroke="#c2c2c2" stroke-width="0.6"/>
<text x="1.2" y="9.6" font-size="11.5" font-weight="bold" font-style="normal" fill="#111" text-anchor="start">A</text>
<text x="0" y="0" font-size="7.8" font-style="italic" fill="#1c1c1c" stroke="#1c1c1c" stroke-width="0.2" text-anchor="middle" transform="translate(19.2,80.5) rotate(-90)">TGFβ fingerprint</text>
<text x="0" y="0" font-size="7.7" font-weight="bold" fill="#1a1a1a" transform="translate(35.85,161.50) rotate(90)">RLN</text>
<text x="0" y="0" font-size="7.7" font-weight="bold" fill="#1a1a1a" transform="translate(44.58,161.50) rotate(90)">RLN</text>
<text x="0" y="0" font-size="7.7" font-weight="bold" fill="#1a1a1a" transform="translate(53.30,161.50) rotate(90)">RLN</text>
<text x="0" y="0" font-size="7.7" font-weight="bold" fill="#1a1a1a" transform="translate(62.02,161.50) rotate(90)">RLN</text>
<text x="0" y="0" font-size="7.7" font-weight="bold" fill="#1a1a1a" transform="translate(70.74,161.50) rotate(90)">RLN</text>
<text x="0" y="0" font-size="7.7" font-weight="bold" fill="#1a1a1a" transform="translate(79.47,161.50) rotate(90)">HL</text>
<text x="0" y="0" font-size="7.7" font-weight="bold" fill="#1a1a1a" transform="translate(88.19,161.50) rotate(90)">HL</text>
<text x="0" y="0" font-size="7.7" font-weight="bold" fill="#1a1a1a" transform="translate(96.91,161.50) rotate(90)">HL</text>
<text x="0" y="0" font-size="7.7" font-weight="bold" fill="#1a1a1a" transform="translate(105.63,161.50) rotate(90)">HL</text>
<path d="M137.22 131.62H217.12M144.63 138.50L180.03 97.20M143.13 124.73H222.93M157.97 138.50L193.27 97.20M149.05 117.85H228.75M171.30 138.50L206.50 97.20M154.97 110.97H234.57M184.63 138.50L219.73 97.20M160.88 104.08H240.38M197.97 138.50L232.97 97.20" fill="none" stroke="#ebebf1" stroke-width="0.5"/>
<path d="M131.3 64.9V138.5H211.3L246.2 97.2V23.9H166.8ZM166.8 23.9V97.2H246.2M166.8 97.2L131.3 138.5" fill="none" stroke="#1e1e1e" stroke-width="1.7" stroke-linejoin="miter"/>
<circle cx="176.5" cy="61.7" r="1.6" fill="#c8282c"/>
<circle cx="195" cy="67.1" r="1.6" fill="#c8282c"/>
<circle cx="219.7" cy="66.4" r="1.6" fill="#c8282c"/>
<circle cx="207.9" cy="82.4" r="1.6" fill="#c8282c"/>
<circle cx="222.3" cy="87.9" r="1.6" fill="#c8282c"/>
<circle cx="163.1" cy="67.8" r="1.6" fill="#23246e"/>
<circle cx="162.8" cy="94.3" r="1.6" fill="#23246e"/>
<circle cx="184.6" cy="98" r="1.6" fill="#23246e"/>
<circle cx="195" cy="108" r="1.6" fill="#23246e"/>
<circle cx="220.2" cy="31.7" r="1.35" fill="#c8282c"/>
<text x="225.0" y="33.8" font-size="6" font-weight="normal" font-style="normal" fill="#262626" stroke="#262626" stroke-width="0.22" text-anchor="start">RLN</text>
<circle cx="220.2" cy="41.2" r="1.35" fill="#23246e"/>
<text x="225.0" y="43.300000000000004" font-size="6" font-weight="normal" font-style="normal" fill="#262626" stroke="#262626" stroke-width="0.22" text-anchor="start">HL</text>
<text x="129.3" y="155.1" font-size="7.85" font-weight="normal" font-style="normal" fill="#333" stroke="#333" stroke-width="0.18" text-anchor="start">Intra-group distance RLN:</text>
<text x="225" y="155.1" font-size="7.85" font-weight="normal" font-style="normal" fill="#333" stroke="#333" stroke-width="0.18" text-anchor="start">2.86</text>
<text x="129.3" y="164.5" font-size="7.85" font-weight="normal" font-style="normal" fill="#333" stroke="#333" stroke-width="0.18" text-anchor="start">Intra-group distance HL:</text>
<text x="225" y="164.5" font-size="7.85" font-weight="normal" font-style="normal" fill="#333" stroke="#333" stroke-width="0.18" text-anchor="start">2.94</text>
<text x="129.3" y="173.9" font-size="7.85" font-weight="normal" font-style="normal" fill="#333" stroke="#333" stroke-width="0.18" text-anchor="start">Inter-group distance:</text>
<text x="225" y="173.9" font-size="7.85" font-weight="normal" font-style="normal" fill="#333" stroke="#333" stroke-width="0.18" text-anchor="start">3.32</text>
<g filter="url(#hb)"><rect x="308.00" y="28.40" width="9.22" height="3.40" fill="#b9c3e8"/>
<rect x="308.00" y="31.75" width="9.22" height="3.40" fill="#f6f4f5"/>
<rect x="308.00" y="35.10" width="9.22" height="3.40" fill="#dce2f4"/>
<rect x="308.00" y="38.45" width="9.22" height="3.40" fill="#f6f4f5"/>
<rect x="308.00" y="41.80" width="9.22" height="6.75" fill="#6384d0"/>
<rect x="308.00" y="48.50" width="9.22" height="3.40" fill="#2d55b5"/>
<rect x="308.00" y="51.85" width="9.22" height="3.40" fill="#f8dcd7"/>
<rect x="308.00" y="55.20" width="9.22" height="3.40" fill="#f4c3ba"/>
<rect x="308.00" y="58.55" width="9.22" height="3.40" fill="#f8dcd7"/>
<rect x="308.00" y="61.90" width="9.22" height="3.40" fill="#f4c3ba"/>
<rect x="308.00" y="65.25" width="9.22" height="6.75" fill="#f8dcd7"/>
<rect x="308.00" y="71.95" width="9.22" height="3.40" fill="#dce2f4"/>
<rect x="308.00" y="75.30" width="9.22" height="3.40" fill="#f8dcd7"/>
<rect x="308.00" y="78.65" width="9.22" height="3.40" fill="#f4c3ba"/>
<rect x="308.00" y="82.00" width="9.22" height="3.40" fill="#f8dcd7"/>
<rect x="308.00" y="85.35" width="9.22" height="6.75" fill="#e8786a"/>
<rect x="308.00" y="92.05" width="9.22" height="3.40" fill="#f6f4f5"/>
<rect x="308.00" y="95.40" width="9.22" height="10.10" fill="#dce2f4"/>
<rect x="308.00" y="105.45" width="9.22" height="3.40" fill="#6384d0"/>
<rect x="308.00" y="108.80" width="9.22" height="3.40" fill="#b9c3e8"/>
<rect x="308.00" y="112.15" width="9.22" height="3.40" fill="#2d55b5"/>
<rect x="308.00" y="115.50" width="9.22" height="3.40" fill="#b9c3e8"/>
<rect x="308.00" y="118.85" width="9.22" height="3.40" fill="#dce2f4"/>
<rect x="308.00" y="122.20" width="9.22" height="3.40" fill="#f8dcd7"/>
<rect x="308.00" y="125.55" width="9.22" height="3.40" fill="#b9c3e8"/>
<rect x="308.00" y="128.90" width="9.22" height="3.40" fill="#6384d0"/>
<rect x="308.00" y="132.25" width="9.22" height="6.75" fill="#dce2f4"/>
<rect x="308.00" y="138.95" width="9.22" height="3.40" fill="#b9c3e8"/>
<rect x="308.00" y="142.30" width="9.22" height="3.40" fill="#dce2f4"/>
<rect x="308.00" y="145.65" width="9.22" height="3.40" fill="#b9c3e8"/>
<rect x="308.00" y="149.00" width="9.22" height="3.40" fill="#6384d0"/>
<rect x="308.00" y="152.35" width="9.22" height="3.40" fill="#2d55b5"/>
<rect x="308.00" y="155.70" width="9.22" height="3.40" fill="#6384d0"/>
<rect x="308.00" y="159.05" width="9.22" height="3.40" fill="#f8dcd7"/>
<rect x="317.17" y="28.40" width="9.22" height="3.40" fill="#f4c3ba"/>
<rect x="317.17" y="31.75" width="9.22" height="3.40" fill="#f6f4f5"/>
<rect x="317.17" y="35.10" width="9.22" height="3.40" fill="#f8dcd7"/>
<rect x="317.17" y="38.45" width="9.22" height="3.40" fill="#f6f4f5"/>
<rect x="317.17" y="41.80" width="9.22" height="6.75" fill="#f8dcd7"/>
<rect x="317.17" y="48.50" width="9.22" height="3.40" fill="#f4c3ba"/>
<rect x="317.17" y="51.85" width="9.22" height="13.45" fill="#e8786a"/>
<rect x="317.17" y="65.25" width="9.22" height="3.40" fill="#d83e2d"/>
<rect x="317.17" y="68.60" width="9.22" height="6.75" fill="#e8786a"/>
<rect x="317.17" y="75.30" width="9.22" height="10.10" fill="#f4c3ba"/>
<rect x="317.17" y="85.35" width="9.22" height="3.40" fill="#f8dcd7"/>
<rect x="317.17" y="88.70" width="9.22" height="16.80" fill="#dce2f4"/>
<rect x="317.17" y="105.45" width="9.22" height="3.40" fill="#6384d0"/>
<rect x="317.17" y="108.80" width="9.22" height="3.40" fill="#b9c3e8"/>
<rect x="317.17" y="112.15" width="9.22" height="3.40" fill="#f4c3ba"/>
<rect x="317.17" y="115.50" width="9.22" height="3.40" fill="#2d55b5"/>
<rect x="317.17" y="118.85" width="9.22" height="3.40" fill="#b9c3e8"/>
<rect x="317.17" y="122.20" width="9.22" height="3.40" fill="#2d55b5"/>
<rect x="317.17" y="125.55" width="9.22" height="3.40" fill="#b9c3e8"/>
<rect x="317.17" y="128.90" width="9.22" height="6.75" fill="#dce2f4"/>
<rect x="317.17" y="135.60" width="9.22" height="3.40" fill="#6384d0"/>
<rect x="317.17" y="138.95" width="9.22" height="3.40" fill="#dce2f4"/>
<rect x="317.17" y="142.30" width="9.22" height="3.40" fill="#b9c3e8"/>
<rect x="317.17" y="145.65" width="9.22" height="3.40" fill="#2d55b5"/>
<rect x="317.17" y="149.00" width="9.22" height="3.40" fill="#6384d0"/>
<rect x="317.17" y="152.35" width="9.22" height="3.40" fill="#dce2f4"/>
<rect x="317.17" y="155.70" width="9.22" height="6.75" fill="#b9c3e8"/>
<rect x="326.33" y="28.40" width="9.22" height="3.40" fill="#dce2f4"/>
<rect x="326.33" y="31.75" width="9.22" height="6.75" fill="#f6f4f5"/>
<rect x="326.33" y="38.45" width="9.22" height="3.40" fill="#2d55b5"/>
<rect x="326.33" y="41.80" width="9.22" height="3.40" fill="#6384d0"/>
<rect x="326.33" y="45.15" width="9.22" height="3.40" fill="#2d55b5"/>
<rect x="326.33" y="48.50" width="9.22" height="3.40" fill="#dce2f4"/>
<rect x="326.33" y="51.85" width="9.22" height="10.10" fill="#f6f4f5"/>
<rect x="326.33" y="61.90" width="9.22" height="6.75" fill="#dce2f4"/>
<rect x="326.33" y="68.60" width="9.22" height="3.40" fill="#6384d0"/>
<rect x="326.33" y="71.95" width="9.22" height="3.40" fill="#b9c3e8"/>
<rect x="326.33" y="75.30" width="9.22" height="3.40" fill="#f8dcd7"/>
<rect x="326.33" y="78.65" width="9.22" height="3.40" fill="#6384d0"/>
<rect x="326.33" y="82.00" width="9.22" height="6.75" fill="#b9c3e8"/>
<rect x="326.33" y="88.70" width="9.22" height="3.40" fill="#dce2f4"/>
<rect x="326.33" y="92.05" width="9.22" height="10.10" fill="#d83e2d"/>
<rect x="326.33" y="102.10" width="9.22" height="3.40" fill="#f6f4f5"/>
<rect x="326.33" y="105.45" width="9.22" height="3.40" fill="#f8dcd7"/>
<rect x="326.33" y="108.80" width="9.22" height="3.40" fill="#f4c3ba"/>
<rect x="326.33" y="112.15" width="9.22" height="3.40" fill="#f8dcd7"/>
<rect x="326.33" y="115.50" width="9.22" height="3.40" fill="#dce2f4"/>
<rect x="326.33" y="118.85" width="9.22" height="3.40" fill="#6384d0"/>
<rect x="326.33" y="122.20" width="9.22" height="3.40" fill="#dce2f4"/>
<rect x="326.33" y="125.55" width="9.22" height="3.40" fill="#b9c3e8"/>
<rect x="326.33" y="128.90" width="9.22" height="3.40" fill="#dce2f4"/>
<rect x="326.33" y="132.25" width="9.22" height="3.40" fill="#b9c3e8"/>
<rect x="326.33" y="135.60" width="9.22" height="6.75" fill="#f6f4f5"/>
<rect x="326.33" y="142.30" width="9.22" height="3.40" fill="#dce2f4"/>
<rect x="326.33" y="145.65" width="9.22" height="3.40" fill="#b9c3e8"/>
<rect x="326.33" y="149.00" width="9.22" height="3.40" fill="#6384d0"/>
<rect x="326.33" y="152.35" width="9.22" height="3.40" fill="#f6f4f5"/>
<rect x="326.33" y="155.70" width="9.22" height="3.40" fill="#2d55b5"/>
<rect x="326.33" y="159.05" width="9.22" height="3.40" fill="#6384d0"/>
<rect x="335.50" y="28.40" width="9.22" height="3.40" fill="#d83e2d"/>
<rect x="335.50" y="31.75" width="9.22" height="10.10" fill="#e8786a"/>
<rect x="335.50" y="41.80" width="9.22" height="3.40" fill="#d83e2d"/>
<rect x="335.50" y="45.15" width="9.22" height="6.75" fill="#f4c3ba"/>
<rect x="335.50" y="51.85" width="9.22" height="10.10" fill="#f6f4f5"/>
<rect x="335.50" y="61.90" width="9.22" height="6.75" fill="#dce2f4"/>
<rect x="335.50" y="68.60" width="9.22" height="6.75" fill="#f8dcd7"/>
<rect x="335.50" y="75.30" width="9.22" height="3.40" fill="#f4c3ba"/>
<rect x="335.50" y="78.65" width="9.22" height="3.40" fill="#f8dcd7"/>
<rect x="335.50" y="82.00" width="9.22" height="3.40" fill="#b9c3e8"/>
<rect x="335.50" y="85.35" width="9.22" height="3.40" fill="#dce2f4"/>
<rect x="335.50" y="88.70" width="9.22" height="3.40" fill="#f8dcd7"/>
<rect x="335.50" y="92.05" width="9.22" height="3.40" fill="#f6f4f5"/>
<rect x="335.50" y="95.40" width="9.22" height="3.40" fill="#f8dcd7"/>
<rect x="335.50" y="98.75" width="9.22" height="3.40" fill="#f6f4f5"/>
<rect x="335.50" y="102.10" width="9.22" height="3.40" fill="#dce2f4"/>
<rect x="335.50" y="105.45" width="9.22" height="3.40" fill="#f8dcd7"/>
<rect x="335.50" y="108.80" width="9.22" height="3.40" fill="#f4c3ba"/>
<rect x="335.50" y="112.15" width="9.22" height="3.40" fill="#dce2f4"/>
<rect x="335.50" y="115.50" width="9.22" height="3.40" fill="#6384d0"/>
<rect x="335.50" y="118.85" width="9.22" height="3.40" fill="#f8dcd7"/>
<rect x="335.50" y="122.20" width="9.22" height="6.75" fill="#b9c3e8"/>
<rect x="335.50" y="128.90" width="9.22" height="3.40" fill="#f8dcd7"/>
<rect x="335.50" y="132.25" width="9.22" height="3.40" fill="#dce2f4"/>
<rect x="335.50" y="135.60" width="9.22" height="6.75" fill="#6384d0"/>
<rect x="335.50" y="142.30" width="9.22" height="3.40" fill="#b9c3e8"/>
<rect x="335.50" y="145.65" width="9.22" height="3.40" fill="#2d55b5"/>
<rect x="335.50" y="149.00" width="9.22" height="3.40" fill="#6384d0"/>
<rect x="335.50" y="152.35" width="9.22" height="6.75" fill="#f8dcd7"/>
<rect x="335.50" y="159.05" width="9.22" height="3.40" fill="#6384d0"/>
<rect x="344.67" y="28.40" width="9.22" height="3.40" fill="#b9c3e8"/>
<rect x="344.67" y="31.75" width="9.22" height="3.40" fill="#6384d0"/>
<rect x="344.67" y="35.10" width="9.22" height="3.40" fill="#dce2f4"/>
<rect x="344.67" y="38.45" width="9.22" height="3.40" fill="#b9c3e8"/>
<rect x="344.67" y="41.80" width="9.22" height="3.40" fill="#f8dcd7"/>
<rect x="344.67" y="45.15" width="9.22" height="3.40" fill="#b9c3e8"/>
<rect x="344.67" y="48.50" width="9.22" height="3.40" fill="#f6f4f5"/>
<rect x="344.67" y="51.85" width="9.22" height="6.75" fill="#b9c3e8"/>
<rect x="344.67" y="58.55" width="9.22" height="6.75" fill="#dce2f4"/>
<rect x="344.67" y="65.25" width="9.22" height="3.40" fill="#b9c3e8"/>
<rect x="344.67" y="68.60" width="9.22" height="6.75" fill="#f6f4f5"/>
<rect x="344.67" y="75.30" width="9.22" height="3.40" fill="#6384d0"/>
<rect x="344.67" y="78.65" width="9.22" height="3.40" fill="#2d55b5"/>
<rect x="344.67" y="82.00" width="9.22" height="6.75" fill="#f6f4f5"/>
<rect x="344.67" y="88.70" width="9.22" height="10.10" fill="#dce2f4"/>
<rect x="344.67" y="98.75" width="9.22" height="3.40" fill="#f6f4f5"/>
<rect x="344.67" y="102.10" width="9.22" height="3.40" fill="#b9c3e8"/>
<rect x="344.67" y="105.45" width="9.22" height="3.40" fill="#dce2f4"/>
<rect x="344.67" y="108.80" width="9.22" height="3.40" fill="#f8dcd7"/>
<rect x="344.67" y="112.15" width="9.22" height="3.40" fill="#2d55b5"/>
<rect x="344.67" y="115.50" width="9.22" height="3.40" fill="#f6f4f5"/>
<rect x="344.67" y="118.85" width="9.22" height="3.40" fill="#f8dcd7"/>
<rect x="344.67" y="122.20" width="9.22" height="3.40" fill="#f4c3ba"/>
<rect x="344.67" y="125.55" width="9.22" height="6.75" fill="#e8786a"/>
<rect x="344.67" y="132.25" width="9.22" height="3.40" fill="#d83e2d"/>
<rect x="344.67" y="135.60" width="9.22" height="3.40" fill="#e8786a"/>
<rect x="344.67" y="138.95" width="9.22" height="3.40" fill="#d83e2d"/>
<rect x="344.67" y="142.30" width="9.22" height="3.40" fill="#e8786a"/>
<rect x="344.67" y="145.65" width="9.22" height="3.40" fill="#f4c3ba"/>
<rect x="344.67" y="149.00" width="9.22" height="3.40" fill="#f8dcd7"/>
<rect x="344.67" y="152.35" width="9.22" height="3.40" fill="#f4c3ba"/>
<rect x="344.67" y="155.70" width="9.22" height="3.40" fill="#f6f4f5"/>
<rect x="344.67" y="159.05" width="9.22" height="3.40" fill="#f8dcd7"/>
<rect x="353.83" y="28.40" width="9.22" height="3.40" fill="#b9c3e8"/>
<rect x="353.83" y="31.75" width="9.22" height="3.40" fill="#dce2f4"/>
<rect x="353.83" y="35.10" width="9.22" height="3.40" fill="#b9c3e8"/>
<rect x="353.83" y="38.45" width="9.22" height="3.40" fill="#f6f4f5"/>
<rect x="353.83" y="41.80" width="9.22" height="6.75" fill="#dce2f4"/>
<rect x="353.83" y="48.50" width="9.22" height="10.10" fill="#b9c3e8"/>
<rect x="353.83" y="58.55" width="9.22" height="3.40" fill="#dce2f4"/>
<rect x="353.83" y="61.90" width="9.22" height="3.40" fill="#b9c3e8"/>
<rect x="353.83" y="65.25" width="9.22" height="3.40" fill="#dce2f4"/>
<rect x="353.83" y="68.60" width="9.22" height="3.40" fill="#6384d0"/>
<rect x="353.83" y="71.95" width="9.22" height="3.40" fill="#dce2f4"/>
<rect x="353.83" y="75.30" width="9.22" height="6.75" fill="#b9c3e8"/>
<rect x="353.83" y="82.00" width="9.22" height="3.40" fill="#f6f4f5"/>
<rect x="353.83" y="85.35" width="9.22" height="6.75" fill="#dce2f4"/>
<rect x="353.83" y="92.05" width="9.22" height="6.75" fill="#b9c3e8"/>
<rect x="353.83" y="98.75" width="9.22" height="3.40" fill="#2d55b5"/>
<rect x="353.83" y="102.10" width="9.22" height="3.40" fill="#f6f4f5"/>
<rect x="353.83" y="105.45" width="9.22" height="3.40" fill="#b9c3e8"/>
<rect x="353.83" y="108.80" width="9.22" height="3.40" fill="#6384d0"/>
<rect x="353.83" y="112.15" width="9.22" height="3.40" fill="#f8dcd7"/>
<rect x="353.83" y="115.50" width="9.22" height="3.40" fill="#f6f4f5"/>
<rect x="353.83" y="118.85" width="9.22" height="3.40" fill="#f8dcd7"/>
<rect x="353.83" y="122.20" width="9.22" height="3.40" fill="#f6f4f5"/>
<rect x="353.83" y="125.55" width="9.22" height="16.80" fill="#f8dcd7"/>
<rect x="353.83" y="142.30" width="9.22" height="10.10" fill="#f6f4f5"/>
<rect x="353.83" y="152.35" width="9.22" height="6.75" fill="#6384d0"/>
<rect x="353.83" y="159.05" width="9.22" height="3.40" fill="#f6f4f5"/>
<rect x="363.00" y="28.40" width="9.22" height="6.75" fill="#b9c3e8"/>
<rect x="363.00" y="35.10" width="9.22" height="3.40" fill="#2d55b5"/>
<rect x="363.00" y="38.45" width="9.22" height="3.40" fill="#b9c3e8"/>
<rect x="363.00" y="41.80" width="9.22" height="6.75" fill="#dce2f4"/>
<rect x="363.00" y="48.50" width="9.22" height="3.40" fill="#2d55b5"/>
<rect x="363.00" y="51.85" width="9.22" height="3.40" fill="#b9c3e8"/>
<rect x="363.00" y="55.20" width="9.22" height="3.40" fill="#6384d0"/>
<rect x="363.00" y="58.55" width="9.22" height="3.40" fill="#dce2f4"/>
<rect x="363.00" y="61.90" width="9.22" height="6.75" fill="#b9c3e8"/>
<rect x="363.00" y="68.60" width="9.22" height="3.40" fill="#dce2f4"/>
<rect x="363.00" y="71.95" width="9.22" height="3.40" fill="#b9c3e8"/>
<rect x="363.00" y="75.30" width="9.22" height="3.40" fill="#dce2f4"/>
<rect x="363.00" y="78.65" width="9.22" height="3.40" fill="#f8dcd7"/>
<rect x="363.00" y="82.00" width="9.22" height="3.40" fill="#dce2f4"/>
<rect x="363.00" y="85.35" width="9.22" height="3.40" fill="#f6f4f5"/>
<rect x="363.00" y="88.70" width="9.22" height="3.40" fill="#dce2f4"/>
<rect x="363.00" y="92.05" width="9.22" height="13.45" fill="#b9c3e8"/>
<rect x="363.00" y="105.45" width="9.22" height="6.75" fill="#f6f4f5"/>
<rect x="363.00" y="112.15" width="9.22" height="3.40" fill="#f8dcd7"/>
<rect x="363.00" y="115.50" width="9.22" height="3.40" fill="#f6f4f5"/>
<rect x="363.00" y="118.85" width="9.22" height="3.40" fill="#b9c3e8"/>
<rect x="363.00" y="122.20" width="9.22" height="6.75" fill="#f8dcd7"/>
<rect x="363.00" y="128.90" width="9.22" height="3.40" fill="#f6f4f5"/>
<rect x="363.00" y="132.25" width="9.22" height="3.40" fill="#f8dcd7"/>
<rect x="363.00" y="135.60" width="9.22" height="3.40" fill="#f4c3ba"/>
<rect x="363.00" y="138.95" width="9.22" height="23.50" fill="#f8dcd7"/>
<rect x="372.17" y="28.40" width="9.22" height="6.75" fill="#2d55b5"/>
<rect x="372.17" y="35.10" width="9.22" height="10.10" fill="#6384d0"/>
<rect x="372.17" y="45.15" width="9.22" height="3.40" fill="#e8786a"/>
<rect x="372.17" y="48.50" width="9.22" height="3.40" fill="#f8dcd7"/>
<rect x="372.17" y="51.85" width="9.22" height="3.40" fill="#b9c3e8"/>
<rect x="372.17" y="55.20" width="9.22" height="3.40" fill="#6384d0"/>
<rect x="372.17" y="58.55" width="9.22" height="3.40" fill="#b9c3e8"/>
<rect x="372.17" y="61.90" width="9.22" height="3.40" fill="#dce2f4"/>
<rect x="372.17" y="65.25" width="9.22" height="3.40" fill="#b9c3e8"/>
<rect x="372.17" y="68.60" width="9.22" height="3.40" fill="#dce2f4"/>
<rect x="372.17" y="71.95" width="9.22" height="3.40" fill="#2d55b5"/>
<rect x="372.17" y="75.30" width="9.22" height="3.40" fill="#dce2f4"/>
<rect x="372.17" y="78.65" width="9.22" height="3.40" fill="#f8dcd7"/>
<rect x="372.17" y="82.00" width="9.22" height="3.40" fill="#f6f4f5"/>
<rect x="372.17" y="85.35" width="9.22" height="3.40" fill="#2d55b5"/>
<rect x="372.17" y="88.70" width="9.22" height="3.40" fill="#6384d0"/>
<rect x="372.17" y="92.05" width="9.22" height="3.40" fill="#b9c3e8"/>
<rect x="372.17" y="95.40" width="9.22" height="3.40" fill="#2d55b5"/>
<rect x="372.17" y="98.75" width="9.22" height="3.40" fill="#f6f4f5"/>
<rect x="372.17" y="102.10" width="9.22" height="6.75" fill="#d83e2d"/>
<rect x="372.17" y="108.80" width="9.22" height="10.10" fill="#f8dcd7"/>
<rect x="372.17" y="118.85" width="9.22" height="13.45" fill="#2d55b5"/>
<rect x="372.17" y="132.25" width="9.22" height="10.10" fill="#6384d0"/>
<rect x="372.17" y="142.30" width="9.22" height="3.40" fill="#b9c3e8"/>
<rect x="372.17" y="145.65" width="9.22" height="3.40" fill="#f8dcd7"/>
<rect x="372.17" y="149.00" width="9.22" height="10.10" fill="#f6f4f5"/>
<rect x="372.17" y="159.05" width="9.22" height="3.40" fill="#f8dcd7"/>
<rect x="381.33" y="28.40" width="9.22" height="20.15" fill="#f8dcd7"/>
<rect x="381.33" y="48.50" width="9.22" height="3.40" fill="#f6f4f5"/>
<rect x="381.33" y="51.85" width="9.22" height="13.45" fill="#2d55b5"/>
<rect x="381.33" y="65.25" width="9.22" height="3.40" fill="#dce2f4"/>
<rect x="381.33" y="68.60" width="9.22" height="3.40" fill="#6384d0"/>
<rect x="381.33" y="71.95" width="9.22" height="3.40" fill="#f6f4f5"/>
<rect x="381.33" y="75.30" width="9.22" height="6.75" fill="#6384d0"/>
<rect x="381.33" y="82.00" width="9.22" height="3.40" fill="#2d55b5"/>
<rect x="381.33" y="85.35" width="9.22" height="3.40" fill="#6384d0"/>
<rect x="381.33" y="88.70" width="9.22" height="3.40" fill="#b9c3e8"/>
<rect x="381.33" y="92.05" width="9.22" height="13.45" fill="#f8dcd7"/>
<rect x="381.33" y="105.45" width="9.22" height="3.40" fill="#f6f4f5"/>
<rect x="381.33" y="108.80" width="9.22" height="3.40" fill="#6384d0"/>
<rect x="381.33" y="112.15" width="9.22" height="3.40" fill="#b9c3e8"/>
<rect x="381.33" y="115.50" width="9.22" height="6.75" fill="#e8786a"/>
<rect x="381.33" y="122.20" width="9.22" height="3.40" fill="#f4c3ba"/>
<rect x="381.33" y="125.55" width="9.22" height="3.40" fill="#f8dcd7"/>
<rect x="381.33" y="128.90" width="9.22" height="3.40" fill="#f6f4f5"/>
<rect x="381.33" y="132.25" width="9.22" height="6.75" fill="#6384d0"/>
<rect x="381.33" y="138.95" width="9.22" height="3.40" fill="#b9c3e8"/>
<rect x="381.33" y="142.30" width="9.22" height="6.75" fill="#f6f4f5"/>
<rect x="381.33" y="149.00" width="9.22" height="3.40" fill="#e8786a"/>
<rect x="381.33" y="152.35" width="9.22" height="3.40" fill="#f8dcd7"/>
<rect x="381.33" y="155.70" width="9.22" height="3.40" fill="#e8786a"/>
<rect x="381.33" y="159.05" width="9.22" height="3.40" fill="#b9c3e8"/></g>
<path d="M307.60 40.12H306.86V43.48H307.60M307.60 110.47H305.57V113.82H307.60M307.60 97.07H306.58V100.43H307.60M307.60 76.97H305.96V80.33H307.60M307.60 66.92H305.28V70.28H307.60M307.60 130.57H305.62V133.93H307.60M307.60 157.38H305.37V160.73H307.60M307.60 143.97H306.15V147.32H307.60M306.15 145.65H305.50V150.68H307.60M307.60 30.07H306.39V33.42H307.60M307.60 73.62H303.80V78.65H305.96M307.60 90.38H305.47V93.72H307.60M307.60 107.12H304.70V112.15H305.57M307.60 53.52H306.61V56.88H307.60M306.39 31.75H305.50V36.77H307.60M307.60 60.22H306.78V63.58H307.60M307.60 123.88H306.39V127.22H307.60M306.39 125.55H303.87V132.25H305.62M306.78 61.90H302.97V68.60H305.28M307.60 120.53H301.90V128.90H303.87M307.60 140.62H303.35V148.16H305.50M307.60 103.78H302.75V109.64H304.70M302.75 106.71H301.54V117.18H307.60M303.35 144.39H302.49V154.03H307.60M301.90 124.71H300.63V137.28H307.60M301.54 111.94H299.24V130.99H300.63M307.60 87.03H304.45V92.05H305.47M306.61 55.20H300.78V65.25H302.97M306.58 98.75H297.77V121.47H299.24M303.80 76.14H302.07V83.67H307.60M297.77 110.11H296.00V149.21H302.49M296.00 129.66H296.00V159.05H305.37M302.07 79.91H299.89V89.54H304.45M299.89 84.72H296.00V144.35H296.00M306.86 41.80H304.64V46.83H307.60M304.64 44.31H302.54V50.17H307.60M300.78 60.23H296.00V114.54H296.00M302.54 47.24H296.00V87.38H296.00M305.50 34.26H296.00V67.31H296.00" fill="none" stroke="#d2d2d2" stroke-width="0.45"/>
<path d="M312.58 28.40V24.80H321.75V28.40M330.92 28.40V23.60H340.08V28.40M317.17 24.80V21.00H335.50V23.60M358.42 28.40V25.50H367.58V28.40M349.25 28.40V24.40H363.00V25.50M376.75 28.40V19.20H385.92V28.40M356.12 24.40V14.60H381.33V19.20M326.33 21.00V13.20H368.73V14.60" fill="none" stroke="#c2c2c2" stroke-width="0.6"/>
<text x="265.7" y="8.8" font-size="11.5" font-weight="bold" font-style="normal" fill="#111" text-anchor="start">B</text>
<text x="0" y="0" font-size="7.8" font-style="italic" fill="#1c1c1c" stroke="#1c1c1c" stroke-width="0.2" text-anchor="middle" transform="translate(288.3,80.6) rotate(-90)">PD-1 fingerprint</text>
<text x="0" y="0" font-size="7.7" font-weight="bold" fill="#1a1a1a" transform="translate(310.08,164.80) rotate(90)">HL</text>
<text x="0" y="0" font-size="7.7" font-weight="bold" fill="#1a1a1a" transform="translate(319.24,164.80) rotate(90)">HL</text>
<text x="0" y="0" font-size="7.7" font-weight="bold" fill="#1a1a1a" transform="translate(328.41,164.80) rotate(90)">HL</text>
<text x="0" y="0" font-size="7.7" font-weight="bold" fill="#1a1a1a" transform="translate(337.58,164.80) rotate(90)">HL</text>
<text x="0" y="0" font-size="7.7" font-weight="bold" fill="#1a1a1a" transform="translate(346.74,164.80) rotate(90)">RLN</text>
<text x="0" y="0" font-size="7.7" font-weight="bold" fill="#1a1a1a" transform="translate(355.91,164.80) rotate(90)">RLN</text>
<text x="0" y="0" font-size="7.7" font-weight="bold" fill="#1a1a1a" transform="translate(365.08,164.80) rotate(90)">RLN</text>
<text x="0" y="0" font-size="7.7" font-weight="bold" fill="#1a1a1a" transform="translate(374.24,164.80) rotate(90)">RLN</text>
<text x="0" y="0" font-size="7.7" font-weight="bold" fill="#1a1a1a" transform="translate(383.41,164.80) rotate(90)">RLN</text>
<path d="M410.93 128.70H486.87M417.27 135.00L455.20 97.20M417.27 122.40H493.13M429.93 135.00L467.80 97.20M423.60 116.10H499.40M442.60 135.00L480.40 97.20M429.93 109.80H505.67M455.27 135.00L493.00 97.20M436.27 103.50H511.93M467.93 135.00L505.60 97.20" fill="none" stroke="#ebebf1" stroke-width="0.5"/>
<path d="M404.6 59.6V135.0H480.6L518.2 97.2V22.2H442.6ZM442.6 22.2V97.2H518.2M442.6 97.2L404.6 135.0" fill="none" stroke="#1e1e1e" stroke-width="1.7" stroke-linejoin="miter"/>
<circle cx="446.4" cy="66" r="1.6" fill="#c8282c"/>
<circle cx="428.8" cy="76.5" r="1.6" fill="#c8282c"/>
<circle cx="431.7" cy="80.2" r="1.6" fill="#c8282c"/>
<circle cx="432.8" cy="92.7" r="1.6" fill="#c8282c"/>
<circle cx="456.3" cy="96.3" r="1.6" fill="#c8282c"/>
<circle cx="467.7" cy="45.4" r="1.6" fill="#23246e"/>
<circle cx="471.5" cy="44.9" r="1.6" fill="#23246e"/>
<circle cx="491.8" cy="81.1" r="1.6" fill="#23246e"/>
<circle cx="492.1" cy="91.5" r="1.6" fill="#23246e"/>
<circle cx="495.8" cy="30.3" r="1.35" fill="#c8282c"/>
<text x="500.6" y="32.4" font-size="6" font-weight="normal" font-style="normal" fill="#262626" stroke="#262626" stroke-width="0.22" text-anchor="start">RLN</text>
<circle cx="495.8" cy="39.8" r="1.35" fill="#23246e"/>
<text x="500.6" y="41.9" font-size="6" font-weight="normal" font-style="normal" fill="#262626" stroke="#262626" stroke-width="0.22" text-anchor="start">HL</text>
<text x="406.8" y="149.5" font-size="7.85" font-weight="normal" font-style="normal" fill="#333" stroke="#333" stroke-width="0.18" text-anchor="start">Intra-group distance RLN:</text>
<text x="503.6" y="149.5" font-size="7.85" font-weight="normal" font-style="normal" fill="#333" stroke="#333" stroke-width="0.18" text-anchor="start">2.70</text>
<text x="406.8" y="158.9" font-size="7.85" font-weight="normal" font-style="normal" fill="#333" stroke="#333" stroke-width="0.18" text-anchor="start">Intra-group distance HL:</text>
<text x="503.6" y="158.9" font-size="7.85" font-weight="normal" font-style="normal" fill="#333" stroke="#333" stroke-width="0.18" text-anchor="start">3.09</text>
<text x="406.8" y="168.3" font-size="7.85" font-weight="normal" font-style="normal" fill="#333" stroke="#333" stroke-width="0.18" text-anchor="start">Inter-group distance:</text>
<text x="503.6" y="168.3" font-size="7.85" font-weight="normal" font-style="normal" fill="#333" stroke="#333" stroke-width="0.18" text-anchor="start">4.01</text>
<g filter="url(#hb)"><rect x="30.80" y="218.50" width="11.85" height="10.05" fill="#d83e2d"/>
<rect x="30.80" y="228.50" width="11.85" height="2.05" fill="#e8786a"/>
<rect x="30.80" y="230.50" width="11.85" height="2.05" fill="#d83e2d"/>
<rect x="30.80" y="232.50" width="11.85" height="4.05" fill="#e8786a"/>
<rect x="30.80" y="236.50" width="11.85" height="2.05" fill="#d83e2d"/>
<rect x="30.80" y="238.50" width="11.85" height="4.05" fill="#e8786a"/>
<rect x="30.80" y="242.50" width="11.85" height="4.05" fill="#f4c3ba"/>
<rect x="30.80" y="246.50" width="11.85" height="4.05" fill="#d83e2d"/>
<rect x="30.80" y="250.50" width="11.85" height="2.05" fill="#b9c3e8"/>
<rect x="30.80" y="252.50" width="11.85" height="8.05" fill="#6384d0"/>
<rect x="30.80" y="260.50" width="11.85" height="2.05" fill="#b9c3e8"/>
<rect x="30.80" y="262.50" width="11.85" height="2.05" fill="#6384d0"/>
<rect x="30.80" y="264.50" width="11.85" height="6.05" fill="#2d55b5"/>
<rect x="30.80" y="270.50" width="11.85" height="2.05" fill="#6384d0"/>
<rect x="30.80" y="272.50" width="11.85" height="4.05" fill="#2d55b5"/>
<rect x="30.80" y="276.50" width="11.85" height="2.05" fill="#6384d0"/>
<rect x="30.80" y="278.50" width="11.85" height="4.05" fill="#2d55b5"/>
<rect x="30.80" y="282.50" width="11.85" height="2.05" fill="#b9c3e8"/>
<rect x="30.80" y="284.50" width="11.85" height="2.05" fill="#2d55b5"/>
<rect x="30.80" y="286.50" width="11.85" height="4.05" fill="#6384d0"/>
<rect x="30.80" y="290.50" width="11.85" height="2.05" fill="#b9c3e8"/>
<rect x="30.80" y="292.50" width="11.85" height="2.05" fill="#6384d0"/>
<rect x="30.80" y="294.50" width="11.85" height="2.05" fill="#b9c3e8"/>
<rect x="30.80" y="296.50" width="11.85" height="4.05" fill="#f6f4f5"/>
<rect x="30.80" y="300.50" width="11.85" height="4.05" fill="#2d55b5"/>
<rect x="30.80" y="304.50" width="11.85" height="2.05" fill="#b9c3e8"/>
<rect x="30.80" y="306.50" width="11.85" height="2.05" fill="#6384d0"/>
<rect x="30.80" y="308.50" width="11.85" height="6.05" fill="#2d55b5"/>
<rect x="30.80" y="314.50" width="11.85" height="2.05" fill="#f6f4f5"/>
<rect x="30.80" y="316.50" width="11.85" height="2.05" fill="#f4c3ba"/>
<rect x="30.80" y="318.50" width="11.85" height="2.05" fill="#f6f4f5"/>
<rect x="30.80" y="320.50" width="11.85" height="2.05" fill="#6384d0"/>
<rect x="30.80" y="322.50" width="11.85" height="2.05" fill="#b9c3e8"/>
<rect x="30.80" y="324.50" width="11.85" height="4.05" fill="#2d55b5"/>
<rect x="30.80" y="328.50" width="11.85" height="2.05" fill="#b9c3e8"/>
<rect x="30.80" y="330.50" width="11.85" height="2.05" fill="#f4c3ba"/>
<rect x="30.80" y="332.50" width="11.85" height="2.05" fill="#f6f4f5"/>
<rect x="30.80" y="334.50" width="11.85" height="2.05" fill="#b9c3e8"/>
<rect x="30.80" y="336.50" width="11.85" height="2.05" fill="#e8786a"/>
<rect x="30.80" y="338.50" width="11.85" height="2.05" fill="#f4c3ba"/>
<rect x="30.80" y="340.50" width="11.85" height="2.05" fill="#b9c3e8"/>
<rect x="30.80" y="342.50" width="11.85" height="2.05" fill="#f6f4f5"/>
<rect x="30.80" y="344.50" width="11.85" height="2.05" fill="#6384d0"/>
<rect x="30.80" y="346.50" width="11.85" height="2.05" fill="#b9c3e8"/>
<rect x="30.80" y="348.50" width="11.85" height="4.05" fill="#6384d0"/>
<rect x="30.80" y="352.50" width="11.85" height="2.05" fill="#b9c3e8"/>
<rect x="30.80" y="354.50" width="11.85" height="2.05" fill="#6384d0"/>
<rect x="30.80" y="356.50" width="11.85" height="2.05" fill="#b9c3e8"/>
<rect x="30.80" y="358.50" width="11.85" height="2.05" fill="#f4c3ba"/>
<rect x="42.60" y="218.50" width="11.85" height="2.05" fill="#f4c3ba"/>
<rect x="42.60" y="220.50" width="11.85" height="2.05" fill="#f6f4f5"/>
<rect x="42.60" y="222.50" width="11.85" height="10.05" fill="#f4c3ba"/>
<rect x="42.60" y="232.50" width="11.85" height="2.05" fill="#f6f4f5"/>
<rect x="42.60" y="234.50" width="11.85" height="2.05" fill="#f4c3ba"/>
<rect x="42.60" y="236.50" width="11.85" height="4.05" fill="#e8786a"/>
<rect x="42.60" y="240.50" width="11.85" height="2.05" fill="#f6f4f5"/>
<rect x="42.60" y="242.50" width="11.85" height="4.05" fill="#f4c3ba"/>
<rect x="42.60" y="246.50" width="11.85" height="2.05" fill="#f6f4f5"/>
<rect x="42.60" y="248.50" width="11.85" height="8.05" fill="#b9c3e8"/>
<rect x="42.60" y="256.50" width="11.85" height="4.05" fill="#f6f4f5"/>
<rect x="42.60" y="260.50" width="11.85" height="2.05" fill="#6384d0"/>
<rect x="42.60" y="262.50" width="11.85" height="2.05" fill="#b9c3e8"/>
<rect x="42.60" y="264.50" width="11.85" height="8.05" fill="#6384d0"/>
<rect x="42.60" y="272.50" width="11.85" height="4.05" fill="#b9c3e8"/>
<rect x="42.60" y="276.50" width="11.85" height="4.05" fill="#2d55b5"/>
<rect x="42.60" y="280.50" width="11.85" height="8.05" fill="#6384d0"/>
<rect x="42.60" y="288.50" width="11.85" height="6.05" fill="#2d55b5"/>
<rect x="42.60" y="294.50" width="11.85" height="6.05" fill="#b9c3e8"/>
<rect x="42.60" y="300.50" width="11.85" height="4.05" fill="#f6f4f5"/>
<rect x="42.60" y="304.50" width="11.85" height="4.05" fill="#b9c3e8"/>
<rect x="42.60" y="308.50" width="11.85" height="6.05" fill="#f6f4f5"/>
<rect x="42.60" y="314.50" width="11.85" height="2.05" fill="#b9c3e8"/>
<rect x="42.60" y="316.50" width="11.85" height="4.05" fill="#2d55b5"/>
<rect x="42.60" y="320.50" width="11.85" height="2.05" fill="#b9c3e8"/>
<rect x="42.60" y="322.50" width="11.85" height="4.05" fill="#f4c3ba"/>
<rect x="42.60" y="326.50" width="11.85" height="4.05" fill="#f6f4f5"/>
<rect x="42.60" y="330.50" width="11.85" height="4.05" fill="#b9c3e8"/>
<rect x="42.60" y="334.50" width="11.85" height="2.05" fill="#f6f4f5"/>
<rect x="42.60" y="336.50" width="11.85" height="4.05" fill="#6384d0"/>
<rect x="42.60" y="340.50" width="11.85" height="2.05" fill="#b9c3e8"/>
<rect x="42.60" y="342.50" width="11.85" height="2.05" fill="#f4c3ba"/>
<rect x="42.60" y="344.50" width="11.85" height="2.05" fill="#f6f4f5"/>
<rect x="42.60" y="346.50" width="11.85" height="2.05" fill="#b9c3e8"/>
<rect x="42.60" y="348.50" width="11.85" height="4.05" fill="#e8786a"/>
<rect x="42.60" y="352.50" width="11.85" height="2.05" fill="#f4c3ba"/>
<rect x="42.60" y="354.50" width="11.85" height="2.05" fill="#b9c3e8"/>
<rect x="42.60" y="356.50" width="11.85" height="4.05" fill="#f6f4f5"/>
<rect x="54.40" y="218.50" width="11.85" height="4.05" fill="#f6f4f5"/>
<rect x="54.40" y="222.50" width="11.85" height="4.05" fill="#6384d0"/>
<rect x="54.40" y="226.50" width="11.85" height="2.05" fill="#2d55b5"/>
<rect x="54.40" y="228.50" width="11.85" height="4.05" fill="#6384d0"/>
<rect x="54.40" y="232.50" width="11.85" height="2.05" fill="#2d55b5"/>
<rect x="54.40" y="234.50" width="11.85" height="2.05" fill="#6384d0"/>
<rect x="54.40" y="236.50" width="11.85" height="2.05" fill="#2d55b5"/>
<rect x="54.40" y="238.50" width="11.85" height="4.05" fill="#6384d0"/>
<rect x="54.40" y="242.50" width="11.85" height="2.05" fill="#2d55b5"/>
<rect x="54.40" y="244.50" width="11.85" height="2.05" fill="#6384d0"/>
<rect x="54.40" y="246.50" width="11.85" height="6.05" fill="#b9c3e8"/>
<rect x="54.40" y="252.50" width="11.85" height="2.05" fill="#f4c3ba"/>
<rect x="54.40" y="254.50" width="11.85" height="4.05" fill="#e8786a"/>
<rect x="54.40" y="258.50" width="11.85" height="2.05" fill="#d83e2d"/>
<rect x="54.40" y="260.50" width="11.85" height="2.05" fill="#e8786a"/>
<rect x="54.40" y="262.50" width="11.85" height="2.05" fill="#f6f4f5"/>
<rect x="54.40" y="264.50" width="11.85" height="2.05" fill="#f4c3ba"/>
<rect x="54.40" y="266.50" width="11.85" height="2.05" fill="#f6f4f5"/>
<rect x="54.40" y="268.50" width="11.85" height="2.05" fill="#e8786a"/>
<rect x="54.40" y="270.50" width="11.85" height="2.05" fill="#f4c3ba"/>
<rect x="54.40" y="272.50" width="11.85" height="4.05" fill="#e8786a"/>
<rect x="54.40" y="276.50" width="11.85" height="2.05" fill="#f4c3ba"/>
<rect x="54.40" y="278.50" width="11.85" height="2.05" fill="#e8786a"/>
<rect x="54.40" y="280.50" width="11.85" height="2.05" fill="#f4c3ba"/>
<rect x="54.40" y="282.50" width="11.85" height="4.05" fill="#e8786a"/>
<rect x="54.40" y="286.50" width="11.85" height="2.05" fill="#f6f4f5"/>
<rect x="54.40" y="288.50" width="11.85" height="6.05" fill="#f4c3ba"/>
<rect x="54.40" y="294.50" width="11.85" height="4.05" fill="#e8786a"/>
<rect x="54.40" y="298.50" width="11.85" height="2.05" fill="#f4c3ba"/>
<rect x="54.40" y="300.50" width="11.85" height="4.05" fill="#e8786a"/>
<rect x="54.40" y="304.50" width="11.85" height="2.05" fill="#f6f4f5"/>
<rect x="54.40" y="306.50" width="11.85" height="2.05" fill="#b9c3e8"/>
<rect x="54.40" y="308.50" width="11.85" height="2.05" fill="#f6f4f5"/>
<rect x="54.40" y="310.50" width="11.85" height="4.05" fill="#f4c3ba"/>
<rect x="54.40" y="314.50" width="11.85" height="2.05" fill="#b9c3e8"/>
<rect x="54.40" y="316.50" width="11.85" height="2.05" fill="#f6f4f5"/>
<rect x="54.40" y="318.50" width="11.85" height="2.05" fill="#b9c3e8"/>
<rect x="54.40" y="320.50" width="11.85" height="4.05" fill="#e8786a"/>
<rect x="54.40" y="324.50" width="11.85" height="2.05" fill="#b9c3e8"/>
<rect x="54.40" y="326.50" width="11.85" height="2.05" fill="#f6f4f5"/>
<rect x="54.40" y="328.50" width="11.85" height="4.05" fill="#d83e2d"/>
<rect x="54.40" y="332.50" width="11.85" height="2.05" fill="#e8786a"/>
<rect x="54.40" y="334.50" width="11.85" height="2.05" fill="#f4c3ba"/>
<rect x="54.40" y="336.50" width="11.85" height="2.05" fill="#e8786a"/>
<rect x="54.40" y="338.50" width="11.85" height="2.05" fill="#f4c3ba"/>
<rect x="54.40" y="340.50" width="11.85" height="2.05" fill="#6384d0"/>
<rect x="54.40" y="342.50" width="11.85" height="4.05" fill="#f6f4f5"/>
<rect x="54.40" y="346.50" width="11.85" height="4.05" fill="#f4c3ba"/>
<rect x="54.40" y="350.50" width="11.85" height="2.05" fill="#b9c3e8"/>
<rect x="54.40" y="352.50" width="11.85" height="2.05" fill="#f6f4f5"/>
<rect x="54.40" y="354.50" width="11.85" height="2.05" fill="#6384d0"/>
<rect x="54.40" y="356.50" width="11.85" height="2.05" fill="#2d55b5"/>
<rect x="54.40" y="358.50" width="11.85" height="2.05" fill="#b9c3e8"/>
<rect x="66.20" y="218.50" width="11.85" height="2.05" fill="#f6f4f5"/>
<rect x="66.20" y="220.50" width="11.85" height="2.05" fill="#b9c3e8"/>
<rect x="66.20" y="222.50" width="11.85" height="2.05" fill="#f6f4f5"/>
<rect x="66.20" y="224.50" width="11.85" height="2.05" fill="#b9c3e8"/>
<rect x="66.20" y="226.50" width="11.85" height="2.05" fill="#f6f4f5"/>
<rect x="66.20" y="228.50" width="11.85" height="2.05" fill="#b9c3e8"/>
<rect x="66.20" y="230.50" width="11.85" height="4.05" fill="#f6f4f5"/>
<rect x="66.20" y="234.50" width="11.85" height="2.05" fill="#b9c3e8"/>
<rect x="66.20" y="236.50" width="11.85" height="2.05" fill="#f6f4f5"/>
<rect x="66.20" y="238.50" width="11.85" height="6.05" fill="#f4c3ba"/>
<rect x="66.20" y="244.50" width="11.85" height="2.05" fill="#f6f4f5"/>
<rect x="66.20" y="246.50" width="11.85" height="2.05" fill="#f4c3ba"/>
<rect x="66.20" y="248.50" width="11.85" height="8.05" fill="#b9c3e8"/>
<rect x="66.20" y="256.50" width="11.85" height="2.05" fill="#6384d0"/>
<rect x="66.20" y="258.50" width="11.85" height="2.05" fill="#f6f4f5"/>
<rect x="66.20" y="260.50" width="11.85" height="2.05" fill="#b9c3e8"/>
<rect x="66.20" y="262.50" width="11.85" height="4.05" fill="#f6f4f5"/>
<rect x="66.20" y="266.50" width="11.85" height="2.05" fill="#f4c3ba"/>
<rect x="66.20" y="268.50" width="11.85" height="2.05" fill="#f6f4f5"/>
<rect x="66.20" y="270.50" width="11.85" height="4.05" fill="#f4c3ba"/>
<rect x="66.20" y="274.50" width="11.85" height="2.05" fill="#f6f4f5"/>
<rect x="66.20" y="276.50" width="11.85" height="2.05" fill="#f4c3ba"/>
<rect x="66.20" y="278.50" width="11.85" height="2.05" fill="#f6f4f5"/>
<rect x="66.20" y="280.50" width="11.85" height="2.05" fill="#f4c3ba"/>
<rect x="66.20" y="282.50" width="11.85" height="4.05" fill="#f6f4f5"/>
<rect x="66.20" y="286.50" width="11.85" height="2.05" fill="#b9c3e8"/>
<rect x="66.20" y="288.50" width="11.85" height="4.05" fill="#f4c3ba"/>
<rect x="66.20" y="292.50" width="11.85" height="2.05" fill="#f6f4f5"/>
<rect x="66.20" y="294.50" width="11.85" height="8.05" fill="#b9c3e8"/>
<rect x="66.20" y="302.50" width="11.85" height="2.05" fill="#6384d0"/>
<rect x="66.20" y="304.50" width="11.85" height="2.05" fill="#f6f4f5"/>
<rect x="66.20" y="306.50" width="11.85" height="4.05" fill="#f4c3ba"/>
<rect x="66.20" y="310.50" width="11.85" height="2.05" fill="#f6f4f5"/>
<rect x="66.20" y="312.50" width="11.85" height="2.05" fill="#f4c3ba"/>
<rect x="66.20" y="314.50" width="11.85" height="2.05" fill="#f6f4f5"/>
<rect x="66.20" y="316.50" width="11.85" height="2.05" fill="#f4c3ba"/>
<rect x="66.20" y="318.50" width="11.85" height="2.05" fill="#f6f4f5"/>
<rect x="66.20" y="320.50" width="11.85" height="4.05" fill="#b9c3e8"/>
<rect x="66.20" y="324.50" width="11.85" height="2.05" fill="#f6f4f5"/>
<rect x="66.20" y="326.50" width="11.85" height="2.05" fill="#f4c3ba"/>
<rect x="66.20" y="328.50" width="11.85" height="2.05" fill="#b9c3e8"/>
<rect x="66.20" y="330.50" width="11.85" height="2.05" fill="#f6f4f5"/>
<rect x="66.20" y="332.50" width="11.85" height="2.05" fill="#6384d0"/>
<rect x="66.20" y="334.50" width="11.85" height="2.05" fill="#f6f4f5"/>
<rect x="66.20" y="336.50" width="11.85" height="2.05" fill="#b9c3e8"/>
<rect x="66.20" y="338.50" width="11.85" height="2.05" fill="#f4c3ba"/>
<rect x="66.20" y="340.50" width="11.85" height="2.05" fill="#b9c3e8"/>
<rect x="66.20" y="342.50" width="11.85" height="4.05" fill="#6384d0"/>
<rect x="66.20" y="346.50" width="11.85" height="2.05" fill="#b9c3e8"/>
<rect x="66.20" y="348.50" width="11.85" height="4.05" fill="#6384d0"/>
<rect x="66.20" y="352.50" width="11.85" height="2.05" fill="#f6f4f5"/>
<rect x="66.20" y="354.50" width="11.85" height="2.05" fill="#f4c3ba"/>
<rect x="66.20" y="356.50" width="11.85" height="4.05" fill="#f6f4f5"/>
<rect x="78.00" y="218.50" width="11.85" height="2.05" fill="#b9c3e8"/>
<rect x="78.00" y="220.50" width="11.85" height="2.05" fill="#f6f4f5"/>
<rect x="78.00" y="222.50" width="11.85" height="2.05" fill="#b9c3e8"/>
<rect x="78.00" y="224.50" width="11.85" height="4.05" fill="#f4c3ba"/>
<rect x="78.00" y="228.50" width="11.85" height="2.05" fill="#f6f4f5"/>
<rect x="78.00" y="230.50" width="11.85" height="4.05" fill="#b9c3e8"/>
<rect x="78.00" y="234.50" width="11.85" height="2.05" fill="#f6f4f5"/>
<rect x="78.00" y="236.50" width="11.85" height="6.05" fill="#b9c3e8"/>
<rect x="78.00" y="242.50" width="11.85" height="2.05" fill="#f6f4f5"/>
<rect x="78.00" y="244.50" width="11.85" height="2.05" fill="#b9c3e8"/>
<rect x="78.00" y="246.50" width="11.85" height="4.05" fill="#6384d0"/>
<rect x="78.00" y="250.50" width="11.85" height="2.05" fill="#b9c3e8"/>
<rect x="78.00" y="252.50" width="11.85" height="2.05" fill="#f6f4f5"/>
<rect x="78.00" y="254.50" width="11.85" height="2.05" fill="#e8786a"/>
<rect x="78.00" y="256.50" width="11.85" height="2.05" fill="#f4c3ba"/>
<rect x="78.00" y="258.50" width="11.85" height="4.05" fill="#e8786a"/>
<rect x="78.00" y="262.50" width="11.85" height="2.05" fill="#d83e2d"/>
<rect x="78.00" y="264.50" width="11.85" height="6.05" fill="#f6f4f5"/>
<rect x="78.00" y="270.50" width="11.85" height="6.05" fill="#f4c3ba"/>
<rect x="78.00" y="276.50" width="11.85" height="2.05" fill="#e8786a"/>
<rect x="78.00" y="278.50" width="11.85" height="6.05" fill="#f4c3ba"/>
<rect x="78.00" y="284.50" width="11.85" height="4.05" fill="#e8786a"/>
<rect x="78.00" y="288.50" width="11.85" height="4.05" fill="#f6f4f5"/>
<rect x="78.00" y="292.50" width="11.85" height="2.05" fill="#b9c3e8"/>
<rect x="78.00" y="294.50" width="11.85" height="2.05" fill="#f6f4f5"/>
<rect x="78.00" y="296.50" width="11.85" height="2.05" fill="#f4c3ba"/>
<rect x="78.00" y="298.50" width="11.85" height="2.05" fill="#f6f4f5"/>
<rect x="78.00" y="300.50" width="11.85" height="2.05" fill="#f4c3ba"/>
<rect x="78.00" y="302.50" width="11.85" height="6.05" fill="#b9c3e8"/>
<rect x="78.00" y="308.50" width="11.85" height="4.05" fill="#f6f4f5"/>
<rect x="78.00" y="312.50" width="11.85" height="4.05" fill="#f4c3ba"/>
<rect x="78.00" y="316.50" width="11.85" height="4.05" fill="#e8786a"/>
<rect x="78.00" y="320.50" width="11.85" height="2.05" fill="#f6f4f5"/>
<rect x="78.00" y="322.50" width="11.85" height="2.05" fill="#b9c3e8"/>
<rect x="78.00" y="324.50" width="11.85" height="4.05" fill="#f4c3ba"/>
<rect x="78.00" y="328.50" width="11.85" height="2.05" fill="#f6f4f5"/>
<rect x="78.00" y="330.50" width="11.85" height="2.05" fill="#b9c3e8"/>
<rect x="78.00" y="332.50" width="11.85" height="2.05" fill="#f6f4f5"/>
<rect x="78.00" y="334.50" width="11.85" height="2.05" fill="#f4c3ba"/>
<rect x="78.00" y="336.50" width="11.85" height="2.05" fill="#f6f4f5"/>
<rect x="78.00" y="338.50" width="11.85" height="2.05" fill="#b9c3e8"/>
<rect x="78.00" y="340.50" width="11.85" height="2.05" fill="#f6f4f5"/>
<rect x="78.00" y="342.50" width="11.85" height="2.05" fill="#f4c3ba"/>
<rect x="78.00" y="344.50" width="11.85" height="2.05" fill="#e8786a"/>
<rect x="78.00" y="346.50" width="11.85" height="4.05" fill="#f4c3ba"/>
<rect x="78.00" y="350.50" width="11.85" height="4.05" fill="#e8786a"/>
<rect x="78.00" y="354.50" width="11.85" height="2.05" fill="#f6f4f5"/>
<rect x="78.00" y="356.50" width="11.85" height="2.05" fill="#b9c3e8"/>
<rect x="78.00" y="358.50" width="11.85" height="2.05" fill="#f4c3ba"/>
<rect x="89.80" y="218.50" width="11.85" height="4.05" fill="#f6f4f5"/>
<rect x="89.80" y="222.50" width="11.85" height="4.05" fill="#b9c3e8"/>
<rect x="89.80" y="226.50" width="11.85" height="2.05" fill="#f4c3ba"/>
<rect x="89.80" y="228.50" width="11.85" height="4.05" fill="#f6f4f5"/>
<rect x="89.80" y="232.50" width="11.85" height="2.05" fill="#b9c3e8"/>
<rect x="89.80" y="234.50" width="11.85" height="4.05" fill="#f6f4f5"/>
<rect x="89.80" y="238.50" width="11.85" height="2.05" fill="#b9c3e8"/>
<rect x="89.80" y="240.50" width="11.85" height="2.05" fill="#f6f4f5"/>
<rect x="89.80" y="242.50" width="11.85" height="2.05" fill="#b9c3e8"/>
<rect x="89.80" y="244.50" width="11.85" height="4.05" fill="#f4c3ba"/>
<rect x="89.80" y="248.50" width="11.85" height="2.05" fill="#b9c3e8"/>
<rect x="89.80" y="250.50" width="11.85" height="2.05" fill="#f6f4f5"/>
<rect x="89.80" y="252.50" width="11.85" height="2.05" fill="#f4c3ba"/>
<rect x="89.80" y="254.50" width="11.85" height="2.05" fill="#f6f4f5"/>
<rect x="89.80" y="256.50" width="11.85" height="6.05" fill="#b9c3e8"/>
<rect x="89.80" y="262.50" width="11.85" height="4.05" fill="#f6f4f5"/>
<rect x="89.80" y="266.50" width="11.85" height="2.05" fill="#f4c3ba"/>
<rect x="89.80" y="268.50" width="11.85" height="4.05" fill="#f6f4f5"/>
<rect x="89.80" y="272.50" width="11.85" height="2.05" fill="#f4c3ba"/>
<rect x="89.80" y="274.50" width="11.85" height="2.05" fill="#f6f4f5"/>
<rect x="89.80" y="276.50" width="11.85" height="2.05" fill="#f4c3ba"/>
<rect x="89.80" y="278.50" width="11.85" height="2.05" fill="#f6f4f5"/>
<rect x="89.80" y="280.50" width="11.85" height="6.05" fill="#f4c3ba"/>
<rect x="89.80" y="286.50" width="11.85" height="4.05" fill="#f6f4f5"/>
<rect x="89.80" y="290.50" width="11.85" height="2.05" fill="#f4c3ba"/>
<rect x="89.80" y="292.50" width="11.85" height="2.05" fill="#f6f4f5"/>
<rect x="89.80" y="294.50" width="11.85" height="2.05" fill="#6384d0"/>
<rect x="89.80" y="296.50" width="11.85" height="2.05" fill="#b9c3e8"/>
<rect x="89.80" y="298.50" width="11.85" height="2.05" fill="#f6f4f5"/>
<rect x="89.80" y="300.50" width="11.85" height="14.05" fill="#f4c3ba"/>
<rect x="89.80" y="314.50" width="11.85" height="6.05" fill="#f6f4f5"/>
<rect x="89.80" y="320.50" width="11.85" height="2.05" fill="#b9c3e8"/>
<rect x="89.80" y="322.50" width="11.85" height="2.05" fill="#6384d0"/>
<rect x="89.80" y="324.50" width="11.85" height="2.05" fill="#b9c3e8"/>
<rect x="89.80" y="326.50" width="11.85" height="2.05" fill="#f4c3ba"/>
<rect x="89.80" y="328.50" width="11.85" height="2.05" fill="#b9c3e8"/>
<rect x="89.80" y="330.50" width="11.85" height="2.05" fill="#f6f4f5"/>
<rect x="89.80" y="332.50" width="11.85" height="2.05" fill="#b9c3e8"/>
<rect x="89.80" y="334.50" width="11.85" height="2.05" fill="#f6f4f5"/>
<rect x="89.80" y="336.50" width="11.85" height="2.05" fill="#b9c3e8"/>
<rect x="89.80" y="338.50" width="11.85" height="2.05" fill="#f6f4f5"/>
<rect x="89.80" y="340.50" width="11.85" height="4.05" fill="#f4c3ba"/>
<rect x="89.80" y="344.50" width="11.85" height="2.05" fill="#e8786a"/>
<rect x="89.80" y="346.50" width="11.85" height="2.05" fill="#f6f4f5"/>
<rect x="89.80" y="348.50" width="11.85" height="6.05" fill="#b9c3e8"/>
<rect x="89.80" y="354.50" width="11.85" height="2.05" fill="#f6f4f5"/>
<rect x="89.80" y="356.50" width="11.85" height="4.05" fill="#e8786a"/>
<rect x="101.60" y="218.50" width="11.85" height="2.05" fill="#b9c3e8"/>
<rect x="101.60" y="220.50" width="11.85" height="4.05" fill="#f6f4f5"/>
<rect x="101.60" y="224.50" width="11.85" height="2.05" fill="#b9c3e8"/>
<rect x="101.60" y="226.50" width="11.85" height="4.05" fill="#6384d0"/>
<rect x="101.60" y="230.50" width="11.85" height="4.05" fill="#f6f4f5"/>
<rect x="101.60" y="234.50" width="11.85" height="4.05" fill="#b9c3e8"/>
<rect x="101.60" y="238.50" width="11.85" height="4.05" fill="#f6f4f5"/>
<rect x="101.60" y="242.50" width="11.85" height="2.05" fill="#b9c3e8"/>
<rect x="101.60" y="244.50" width="11.85" height="2.05" fill="#6384d0"/>
<rect x="101.60" y="246.50" width="11.85" height="6.05" fill="#b9c3e8"/>
<rect x="101.60" y="252.50" width="11.85" height="2.05" fill="#f4c3ba"/>
<rect x="101.60" y="254.50" width="11.85" height="4.05" fill="#f6f4f5"/>
<rect x="101.60" y="258.50" width="11.85" height="2.05" fill="#f4c3ba"/>
<rect x="101.60" y="260.50" width="11.85" height="10.05" fill="#f6f4f5"/>
<rect x="101.60" y="270.50" width="11.85" height="2.05" fill="#f4c3ba"/>
<rect x="101.60" y="272.50" width="11.85" height="2.05" fill="#f6f4f5"/>
<rect x="101.60" y="274.50" width="11.85" height="2.05" fill="#f4c3ba"/>
<rect x="101.60" y="276.50" width="11.85" height="4.05" fill="#f6f4f5"/>
<rect x="101.60" y="280.50" width="11.85" height="2.05" fill="#f4c3ba"/>
<rect x="101.60" y="282.50" width="11.85" height="8.05" fill="#f6f4f5"/>
<rect x="101.60" y="290.50" width="11.85" height="2.05" fill="#f4c3ba"/>
<rect x="101.60" y="292.50" width="11.85" height="2.05" fill="#f6f4f5"/>
<rect x="101.60" y="294.50" width="11.85" height="2.05" fill="#b9c3e8"/>
<rect x="101.60" y="296.50" width="11.85" height="2.05" fill="#f6f4f5"/>
<rect x="101.60" y="298.50" width="11.85" height="2.05" fill="#f4c3ba"/>
<rect x="101.60" y="300.50" width="11.85" height="2.05" fill="#f6f4f5"/>
<rect x="101.60" y="302.50" width="11.85" height="2.05" fill="#f4c3ba"/>
<rect x="101.60" y="304.50" width="11.85" height="2.05" fill="#f6f4f5"/>
<rect x="101.60" y="306.50" width="11.85" height="2.05" fill="#f4c3ba"/>
<rect x="101.60" y="308.50" width="11.85" height="2.05" fill="#f6f4f5"/>
<rect x="101.60" y="310.50" width="11.85" height="2.05" fill="#b9c3e8"/>
<rect x="101.60" y="312.50" width="11.85" height="4.05" fill="#f6f4f5"/>
<rect x="101.60" y="316.50" width="11.85" height="4.05" fill="#b9c3e8"/>
<rect x="101.60" y="320.50" width="11.85" height="2.05" fill="#f6f4f5"/>
<rect x="101.60" y="322.50" width="11.85" height="2.05" fill="#b9c3e8"/>
<rect x="101.60" y="324.50" width="11.85" height="2.05" fill="#f6f4f5"/>
<rect x="101.60" y="326.50" width="11.85" height="2.05" fill="#f4c3ba"/>
<rect x="101.60" y="328.50" width="11.85" height="4.05" fill="#b9c3e8"/>
<rect x="101.60" y="332.50" width="11.85" height="2.05" fill="#f6f4f5"/>
<rect x="101.60" y="334.50" width="11.85" height="2.05" fill="#b9c3e8"/>
<rect x="101.60" y="336.50" width="11.85" height="2.05" fill="#f6f4f5"/>
<rect x="101.60" y="338.50" width="11.85" height="2.05" fill="#b9c3e8"/>
<rect x="101.60" y="340.50" width="11.85" height="2.05" fill="#f6f4f5"/>
<rect x="101.60" y="342.50" width="11.85" height="2.05" fill="#f4c3ba"/>
<rect x="101.60" y="344.50" width="11.85" height="2.05" fill="#f6f4f5"/>
<rect x="101.60" y="346.50" width="11.85" height="2.05" fill="#f4c3ba"/>
<rect x="101.60" y="348.50" width="11.85" height="2.05" fill="#f6f4f5"/>
<rect x="101.60" y="350.50" width="11.85" height="2.05" fill="#b9c3e8"/>
<rect x="101.60" y="352.50" width="11.85" height="2.05" fill="#f4c3ba"/>
<rect x="101.60" y="354.50" width="11.85" height="2.05" fill="#f6f4f5"/>
<rect x="101.60" y="356.50" width="11.85" height="2.05" fill="#b9c3e8"/>
<rect x="101.60" y="358.50" width="11.85" height="2.05" fill="#f6f4f5"/>
<rect x="113.40" y="218.50" width="11.85" height="2.05" fill="#b9c3e8"/>
<rect x="113.40" y="220.50" width="11.85" height="2.05" fill="#6384d0"/>
<rect x="113.40" y="222.50" width="11.85" height="2.05" fill="#b9c3e8"/>
<rect x="113.40" y="224.50" width="11.85" height="2.05" fill="#6384d0"/>
<rect x="113.40" y="226.50" width="11.85" height="2.05" fill="#b9c3e8"/>
<rect x="113.40" y="228.50" width="11.85" height="4.05" fill="#6384d0"/>
<rect x="113.40" y="232.50" width="11.85" height="2.05" fill="#b9c3e8"/>
<rect x="113.40" y="234.50" width="11.85" height="4.05" fill="#6384d0"/>
<rect x="113.40" y="238.50" width="11.85" height="4.05" fill="#b9c3e8"/>
<rect x="113.40" y="242.50" width="11.85" height="2.05" fill="#6384d0"/>
<rect x="113.40" y="244.50" width="11.85" height="12.05" fill="#b9c3e8"/>
<rect x="113.40" y="256.50" width="11.85" height="2.05" fill="#f6f4f5"/>
<rect x="113.40" y="258.50" width="11.85" height="2.05" fill="#b9c3e8"/>
<rect x="113.40" y="260.50" width="11.85" height="2.05" fill="#f6f4f5"/>
<rect x="113.40" y="262.50" width="11.85" height="2.05" fill="#6384d0"/>
<rect x="113.40" y="264.50" width="11.85" height="4.05" fill="#e8786a"/>
<rect x="113.40" y="268.50" width="11.85" height="4.05" fill="#f6f4f5"/>
<rect x="113.40" y="272.50" width="11.85" height="2.05" fill="#f4c3ba"/>
<rect x="113.40" y="274.50" width="11.85" height="2.05" fill="#f6f4f5"/>
<rect x="113.40" y="276.50" width="11.85" height="2.05" fill="#f4c3ba"/>
<rect x="113.40" y="278.50" width="11.85" height="2.05" fill="#b9c3e8"/>
<rect x="113.40" y="280.50" width="11.85" height="2.05" fill="#f6f4f5"/>
<rect x="113.40" y="282.50" width="11.85" height="2.05" fill="#b9c3e8"/>
<rect x="113.40" y="284.50" width="11.85" height="8.05" fill="#f4c3ba"/>
<rect x="113.40" y="292.50" width="11.85" height="2.05" fill="#f6f4f5"/>
<rect x="113.40" y="294.50" width="11.85" height="2.05" fill="#f4c3ba"/>
<rect x="113.40" y="296.50" width="11.85" height="2.05" fill="#e8786a"/>
<rect x="113.40" y="298.50" width="11.85" height="2.05" fill="#f4c3ba"/>
<rect x="113.40" y="300.50" width="11.85" height="2.05" fill="#e8786a"/>
<rect x="113.40" y="302.50" width="11.85" height="2.05" fill="#f4c3ba"/>
<rect x="113.40" y="304.50" width="11.85" height="2.05" fill="#e8786a"/>
<rect x="113.40" y="306.50" width="11.85" height="2.05" fill="#f4c3ba"/>
<rect x="113.40" y="308.50" width="11.85" height="2.05" fill="#e8786a"/>
<rect x="113.40" y="310.50" width="11.85" height="2.05" fill="#f6f4f5"/>
<rect x="113.40" y="312.50" width="11.85" height="8.05" fill="#f4c3ba"/>
<rect x="113.40" y="320.50" width="11.85" height="2.05" fill="#f6f4f5"/>
<rect x="113.40" y="322.50" width="11.85" height="4.05" fill="#b9c3e8"/>
<rect x="113.40" y="326.50" width="11.85" height="2.05" fill="#f6f4f5"/>
<rect x="113.40" y="328.50" width="11.85" height="2.05" fill="#b9c3e8"/>
<rect x="113.40" y="330.50" width="11.85" height="2.05" fill="#f6f4f5"/>
<rect x="113.40" y="332.50" width="11.85" height="2.05" fill="#6384d0"/>
<rect x="113.40" y="334.50" width="11.85" height="2.05" fill="#b9c3e8"/>
<rect x="113.40" y="336.50" width="11.85" height="2.05" fill="#f4c3ba"/>
<rect x="113.40" y="338.50" width="11.85" height="4.05" fill="#f6f4f5"/>
<rect x="113.40" y="342.50" width="11.85" height="2.05" fill="#b9c3e8"/>
<rect x="113.40" y="344.50" width="11.85" height="2.05" fill="#f4c3ba"/>
<rect x="113.40" y="346.50" width="11.85" height="2.05" fill="#f6f4f5"/>
<rect x="113.40" y="348.50" width="11.85" height="4.05" fill="#b9c3e8"/>
<rect x="113.40" y="352.50" width="11.85" height="2.05" fill="#f6f4f5"/>
<rect x="113.40" y="354.50" width="11.85" height="2.05" fill="#e8786a"/>
<rect x="113.40" y="356.50" width="11.85" height="2.05" fill="#f4c3ba"/>
<rect x="113.40" y="358.50" width="11.85" height="2.05" fill="#f6f4f5"/></g>
<path d="M30.40 279.50H28.90V281.50H30.40M30.40 251.50H29.26V253.50H30.40M30.40 343.50H28.85V345.50H30.40M30.40 235.50H28.88V237.50H30.40M30.40 347.50H29.44V349.50H30.40M30.40 283.50H29.55V285.50H30.40M30.40 351.50H28.98V353.50H30.40M30.40 297.50H29.09V299.50H30.40M30.40 309.50H28.47V311.50H30.40M30.40 249.50H27.69V252.50H29.26M28.85 344.50H26.81V348.50H29.44M30.40 273.50H28.66V275.50H30.40M30.40 319.50H28.60V321.50H30.40M30.40 241.50H28.63V243.50H30.40M28.47 310.50H27.86V313.50H30.40M30.40 339.50H29.81V341.50H30.40M30.40 261.50H29.09V263.50H30.40M30.40 335.50H28.37V337.50H30.40M28.90 280.50H27.20V284.50H29.55M30.40 291.50H29.22V293.50H30.40M30.40 317.50H27.34V320.50H28.60M28.88 236.50H26.92V239.50H30.40M30.40 231.50H29.80V233.50H30.40M30.40 307.50H26.96V312.00H27.86M28.98 352.50H27.74V355.50H30.40M28.37 336.50H26.44V340.50H29.81M30.40 295.50H27.73V298.50H29.09M30.40 289.50H27.75V292.50H29.22M30.40 327.50H28.91V329.50H30.40M26.44 338.50H25.53V346.50H26.81M30.40 277.50H25.56V282.50H27.20M30.40 221.50H28.47V223.50H30.40M27.69 251.00H26.02V255.50H30.40M30.40 287.50H25.65V291.00H27.75M26.92 238.00H25.22V242.50H28.63M30.40 265.50H28.83V267.50H30.40M25.56 280.00H24.56V289.25H25.65M30.40 229.50H28.48V232.50H29.80M27.74 354.00H27.05V357.50H30.40M30.40 325.50H28.26V328.50H28.91M25.53 342.50H24.74V355.75H27.05M30.40 257.50H29.17V259.50H30.40M30.40 271.50H26.71V274.50H28.66M28.47 222.50H26.95V225.50H30.40M30.40 333.50H24.13V349.12H24.74M28.26 327.00H26.77V331.50H30.40M30.40 305.50H25.00V309.75H26.96M29.17 258.50H27.74V262.50H29.09M26.95 224.00H25.91V227.50H30.40M28.48 231.00H24.50V240.25H25.22M30.40 323.50H26.18V329.25H26.77M27.74 260.50H25.62V266.50H28.83M24.56 284.62H23.03V297.00H27.73M30.40 247.50H24.36V253.25H26.02M30.40 303.50H23.95V307.62H25.00M24.50 235.62H22.51V245.50H30.40M26.71 273.00H21.88V290.81H23.03M23.95 305.56H22.78V315.50H30.40M27.34 319.00H24.54V326.38H26.18M25.91 225.75H20.97V240.56H22.51M24.54 322.69H23.15V341.31H24.13M25.62 263.50H23.56V269.50H30.40M22.78 310.53H20.66V332.00H23.15M21.88 281.91H20.85V301.50H30.40M24.36 250.38H23.01V266.50H23.56M20.85 291.70H19.60V321.27H20.66M23.01 258.44H19.60V306.48H19.60M19.60 282.46H19.60V359.50H30.40M30.40 219.50H20.33V233.16H20.97M20.33 226.33H19.60V320.98H19.60" fill="none" stroke="#d2d2d2" stroke-width="0.45"/>
<path d="M107.50 218.50V215.50H119.30V218.50M95.70 218.50V214.50H113.40V215.50M83.90 218.50V213.30H104.55V214.50M72.10 218.50V211.80H94.23V213.30M60.30 218.50V210.30H83.16V211.80M48.50 218.50V208.00H71.73V210.30M36.70 218.50V202.70H60.12V208.00" fill="none" stroke="#c2c2c2" stroke-width="0.6"/>
<text x="0.9" y="203.9" font-size="11.5" font-weight="bold" font-style="normal" fill="#111" text-anchor="start">C</text>
<text x="0" y="0" font-size="7.8" font-style="italic" fill="#1c1c1c" stroke="#1c1c1c" stroke-width="0.2" text-anchor="middle" transform="translate(15.4,284.2) rotate(-90)">TGFβ fingerprint</text>
<text x="0" y="0" font-size="7.7" font-weight="bold" fill="#1a1a1a" transform="translate(34.19,363.60) rotate(90)">FL</text>
<text x="0" y="0" font-size="7.7" font-weight="bold" fill="#1a1a1a" transform="translate(45.99,363.60) rotate(90)">FL</text>
<text x="0" y="0" font-size="7.7" font-weight="bold" fill="#1a1a1a" transform="translate(57.79,363.60) rotate(90)">RLN</text>
<text x="0" y="0" font-size="7.7" font-weight="bold" fill="#1a1a1a" transform="translate(69.59,363.60) rotate(90)">RLN</text>
<text x="0" y="0" font-size="7.7" font-weight="bold" fill="#1a1a1a" transform="translate(81.39,363.60) rotate(90)">FL</text>
<text x="0" y="0" font-size="7.7" font-weight="bold" fill="#1a1a1a" transform="translate(93.19,363.60) rotate(90)">RLN</text>
<text x="0" y="0" font-size="7.7" font-weight="bold" fill="#1a1a1a" transform="translate(104.99,363.60) rotate(90)">RLN</text>
<text x="0" y="0" font-size="7.7" font-weight="bold" fill="#1a1a1a" transform="translate(116.79,363.60) rotate(90)">RLN</text>
<path d="M144.93 316.03H218.85M151.23 322.10L187.35 285.70M150.97 309.97H224.80M163.57 322.10L199.60 285.70M157.00 303.90H230.75M175.90 322.10L211.85 285.70M163.03 297.83H236.70M188.23 322.10L224.10 285.70M169.07 291.77H242.65M200.57 322.10L236.35 285.70" fill="none" stroke="#ebebf1" stroke-width="0.5"/>
<path d="M138.9 248.2V322.1H212.9L248.6 285.7V212.7H175.1ZM175.1 212.7V285.7H248.6M175.1 285.7L138.9 322.1" fill="none" stroke="#1e1e1e" stroke-width="1.7" stroke-linejoin="miter"/>
<circle cx="166.5" cy="251" r="1.6" fill="#c8282c"/>
<circle cx="171.3" cy="252.6" r="1.6" fill="#c8282c"/>
<circle cx="203.3" cy="252.4" r="1.6" fill="#c8282c"/>
<circle cx="170.6" cy="262.1" r="1.6" fill="#c8282c"/>
<circle cx="188.7" cy="261.4" r="1.6" fill="#c8282c"/>
<circle cx="223.1" cy="271" r="1.6" fill="#1f9450"/>
<circle cx="184.5" cy="284.9" r="1.6" fill="#1f9450"/>
<circle cx="194.3" cy="287" r="1.6" fill="#1f9450"/>
<circle cx="217.3" cy="219.2" r="1.35" fill="#c8282c"/>
<text x="222.10000000000002" y="221.29999999999998" font-size="6" font-weight="normal" font-style="normal" fill="#262626" stroke="#262626" stroke-width="0.22" text-anchor="start">RLN</text>
<circle cx="217.3" cy="228.7" r="1.35" fill="#1f9450"/>
<text x="222.10000000000002" y="230.79999999999998" font-size="6" font-weight="normal" font-style="normal" fill="#262626" stroke="#262626" stroke-width="0.22" text-anchor="start">FL</text>
<text x="138.1" y="340.9" font-size="7.85" font-weight="normal" font-style="normal" fill="#333" stroke="#333" stroke-width="0.18" text-anchor="start">Intra-group distance RLN:</text>
<text x="231.3" y="340.9" font-size="7.85" font-weight="normal" font-style="normal" fill="#333" stroke="#333" stroke-width="0.18" text-anchor="start">2.24</text>
<text x="138.1" y="350.29999999999995" font-size="7.85" font-weight="normal" font-style="normal" fill="#333" stroke="#333" stroke-width="0.18" text-anchor="start">Intra-group distance FL:</text>
<text x="231.3" y="350.29999999999995" font-size="7.85" font-weight="normal" font-style="normal" fill="#333" stroke="#333" stroke-width="0.18" text-anchor="start">3.19</text>
<text x="138.1" y="359.7" font-size="7.85" font-weight="normal" font-style="normal" fill="#333" stroke="#333" stroke-width="0.18" text-anchor="start">Inter-group distance:</text>
<text x="231.3" y="359.7" font-size="7.85" font-weight="normal" font-style="normal" fill="#333" stroke="#333" stroke-width="0.18" text-anchor="start">3.63</text>
<g filter="url(#hb)"><rect x="307.80" y="215.00" width="10.10" height="4.05" fill="#b9c3e8"/>
<rect x="307.80" y="219.00" width="10.10" height="2.05" fill="#f6f4f5"/>
<rect x="307.80" y="221.00" width="10.10" height="2.05" fill="#b9c3e8"/>
<rect x="307.80" y="223.00" width="10.10" height="2.05" fill="#f6f4f5"/>
<rect x="307.80" y="225.00" width="10.10" height="2.05" fill="#2d55b5"/>
<rect x="307.80" y="227.00" width="10.10" height="2.05" fill="#f6f4f5"/>
<rect x="307.80" y="229.00" width="10.10" height="2.05" fill="#b9c3e8"/>
<rect x="307.80" y="231.00" width="10.10" height="2.05" fill="#e8786a"/>
<rect x="307.80" y="233.00" width="10.10" height="2.05" fill="#d83e2d"/>
<rect x="307.80" y="235.00" width="10.10" height="2.05" fill="#f4c3ba"/>
<rect x="307.80" y="237.00" width="10.10" height="6.05" fill="#f6f4f5"/>
<rect x="307.80" y="243.00" width="10.10" height="2.05" fill="#b9c3e8"/>
<rect x="307.80" y="245.00" width="10.10" height="2.05" fill="#6384d0"/>
<rect x="307.80" y="247.00" width="10.10" height="10.05" fill="#b9c3e8"/>
<rect x="307.80" y="257.00" width="10.10" height="2.05" fill="#f6f4f5"/>
<rect x="307.80" y="259.00" width="10.10" height="4.05" fill="#6384d0"/>
<rect x="307.80" y="263.00" width="10.10" height="4.05" fill="#f4c3ba"/>
<rect x="307.80" y="267.00" width="10.10" height="4.05" fill="#f6f4f5"/>
<rect x="307.80" y="271.00" width="10.10" height="2.05" fill="#2d55b5"/>
<rect x="307.80" y="273.00" width="10.10" height="2.05" fill="#6384d0"/>
<rect x="307.80" y="275.00" width="10.10" height="2.05" fill="#f6f4f5"/>
<rect x="307.80" y="277.00" width="10.10" height="2.05" fill="#b9c3e8"/>
<rect x="307.80" y="279.00" width="10.10" height="6.05" fill="#f6f4f5"/>
<rect x="307.80" y="285.00" width="10.10" height="2.05" fill="#6384d0"/>
<rect x="307.80" y="287.00" width="10.10" height="2.05" fill="#2d55b5"/>
<rect x="307.80" y="289.00" width="10.10" height="2.05" fill="#6384d0"/>
<rect x="307.80" y="291.00" width="10.10" height="6.05" fill="#e8786a"/>
<rect x="307.80" y="297.00" width="10.10" height="4.05" fill="#f4c3ba"/>
<rect x="307.80" y="301.00" width="10.10" height="2.05" fill="#e8786a"/>
<rect x="307.80" y="303.00" width="10.10" height="12.05" fill="#f4c3ba"/>
<rect x="307.80" y="315.00" width="10.10" height="4.05" fill="#f6f4f5"/>
<rect x="307.80" y="319.00" width="10.10" height="4.05" fill="#f4c3ba"/>
<rect x="307.80" y="323.00" width="10.10" height="6.05" fill="#f6f4f5"/>
<rect x="307.80" y="329.00" width="10.10" height="4.05" fill="#f4c3ba"/>
<rect x="307.80" y="333.00" width="10.10" height="4.05" fill="#b9c3e8"/>
<rect x="307.80" y="337.00" width="10.10" height="2.05" fill="#f6f4f5"/>
<rect x="307.80" y="339.00" width="10.10" height="4.05" fill="#6384d0"/>
<rect x="307.80" y="343.00" width="10.10" height="4.05" fill="#f4c3ba"/>
<rect x="317.85" y="215.00" width="10.10" height="2.05" fill="#f6f4f5"/>
<rect x="317.85" y="217.00" width="10.10" height="4.05" fill="#f4c3ba"/>
<rect x="317.85" y="221.00" width="10.10" height="2.05" fill="#f6f4f5"/>
<rect x="317.85" y="223.00" width="10.10" height="6.05" fill="#f4c3ba"/>
<rect x="317.85" y="229.00" width="10.10" height="2.05" fill="#6384d0"/>
<rect x="317.85" y="231.00" width="10.10" height="2.05" fill="#f6f4f5"/>
<rect x="317.85" y="233.00" width="10.10" height="2.05" fill="#b9c3e8"/>
<rect x="317.85" y="235.00" width="10.10" height="2.05" fill="#f6f4f5"/>
<rect x="317.85" y="237.00" width="10.10" height="2.05" fill="#b9c3e8"/>
<rect x="317.85" y="239.00" width="10.10" height="4.05" fill="#f6f4f5"/>
<rect x="317.85" y="243.00" width="10.10" height="6.05" fill="#e8786a"/>
<rect x="317.85" y="249.00" width="10.10" height="10.05" fill="#f4c3ba"/>
<rect x="317.85" y="259.00" width="10.10" height="4.05" fill="#f6f4f5"/>
<rect x="317.85" y="263.00" width="10.10" height="4.05" fill="#e8786a"/>
<rect x="317.85" y="267.00" width="10.10" height="2.05" fill="#f4c3ba"/>
<rect x="317.85" y="269.00" width="10.10" height="4.05" fill="#f6f4f5"/>
<rect x="317.85" y="273.00" width="10.10" height="2.05" fill="#f4c3ba"/>
<rect x="317.85" y="275.00" width="10.10" height="2.05" fill="#f6f4f5"/>
<rect x="317.85" y="277.00" width="10.10" height="4.05" fill="#6384d0"/>
<rect x="317.85" y="281.00" width="10.10" height="6.05" fill="#b9c3e8"/>
<rect x="317.85" y="287.00" width="10.10" height="2.05" fill="#2d55b5"/>
<rect x="317.85" y="289.00" width="10.10" height="2.05" fill="#6384d0"/>
<rect x="317.85" y="291.00" width="10.10" height="12.05" fill="#b9c3e8"/>
<rect x="317.85" y="303.00" width="10.10" height="10.05" fill="#f6f4f5"/>
<rect x="317.85" y="313.00" width="10.10" height="2.05" fill="#f4c3ba"/>
<rect x="317.85" y="315.00" width="10.10" height="4.05" fill="#f6f4f5"/>
<rect x="317.85" y="319.00" width="10.10" height="16.05" fill="#b9c3e8"/>
<rect x="317.85" y="335.00" width="10.10" height="2.05" fill="#f6f4f5"/>
<rect x="317.85" y="337.00" width="10.10" height="4.05" fill="#e8786a"/>
<rect x="317.85" y="341.00" width="10.10" height="4.05" fill="#f4c3ba"/>
<rect x="317.85" y="345.00" width="10.10" height="2.05" fill="#f6f4f5"/>
<rect x="327.90" y="215.00" width="10.10" height="2.05" fill="#b9c3e8"/>
<rect x="327.90" y="217.00" width="10.10" height="2.05" fill="#6384d0"/>
<rect x="327.90" y="219.00" width="10.10" height="2.05" fill="#f6f4f5"/>
<rect x="327.90" y="221.00" width="10.10" height="10.05" fill="#b9c3e8"/>
<rect x="327.90" y="231.00" width="10.10" height="2.05" fill="#f6f4f5"/>
<rect x="327.90" y="233.00" width="10.10" height="2.05" fill="#b9c3e8"/>
<rect x="327.90" y="235.00" width="10.10" height="2.05" fill="#f4c3ba"/>
<rect x="327.90" y="237.00" width="10.10" height="2.05" fill="#f6f4f5"/>
<rect x="327.90" y="239.00" width="10.10" height="2.05" fill="#6384d0"/>
<rect x="327.90" y="241.00" width="10.10" height="2.05" fill="#f6f4f5"/>
<rect x="327.90" y="243.00" width="10.10" height="2.05" fill="#f4c3ba"/>
<rect x="327.90" y="245.00" width="10.10" height="6.05" fill="#f6f4f5"/>
<rect x="327.90" y="251.00" width="10.10" height="6.05" fill="#f4c3ba"/>
<rect x="327.90" y="257.00" width="10.10" height="4.05" fill="#e8786a"/>
<rect x="327.90" y="261.00" width="10.10" height="2.05" fill="#d83e2d"/>
<rect x="327.90" y="263.00" width="10.10" height="4.05" fill="#f6f4f5"/>
<rect x="327.90" y="267.00" width="10.10" height="8.05" fill="#f4c3ba"/>
<rect x="327.90" y="275.00" width="10.10" height="2.05" fill="#f6f4f5"/>
<rect x="327.90" y="277.00" width="10.10" height="6.05" fill="#b9c3e8"/>
<rect x="327.90" y="283.00" width="10.10" height="2.05" fill="#f6f4f5"/>
<rect x="327.90" y="285.00" width="10.10" height="2.05" fill="#b9c3e8"/>
<rect x="327.90" y="287.00" width="10.10" height="2.05" fill="#f4c3ba"/>
<rect x="327.90" y="289.00" width="10.10" height="2.05" fill="#f6f4f5"/>
<rect x="327.90" y="291.00" width="10.10" height="4.05" fill="#b9c3e8"/>
<rect x="327.90" y="295.00" width="10.10" height="2.05" fill="#f6f4f5"/>
<rect x="327.90" y="297.00" width="10.10" height="2.05" fill="#b9c3e8"/>
<rect x="327.90" y="299.00" width="10.10" height="2.05" fill="#f6f4f5"/>
<rect x="327.90" y="301.00" width="10.10" height="4.05" fill="#b9c3e8"/>
<rect x="327.90" y="305.00" width="10.10" height="2.05" fill="#6384d0"/>
<rect x="327.90" y="307.00" width="10.10" height="2.05" fill="#b9c3e8"/>
<rect x="327.90" y="309.00" width="10.10" height="2.05" fill="#f6f4f5"/>
<rect x="327.90" y="311.00" width="10.10" height="2.05" fill="#b9c3e8"/>
<rect x="327.90" y="313.00" width="10.10" height="6.05" fill="#f6f4f5"/>
<rect x="327.90" y="319.00" width="10.10" height="2.05" fill="#b9c3e8"/>
<rect x="327.90" y="321.00" width="10.10" height="2.05" fill="#f6f4f5"/>
<rect x="327.90" y="323.00" width="10.10" height="4.05" fill="#6384d0"/>
<rect x="327.90" y="327.00" width="10.10" height="4.05" fill="#f6f4f5"/>
<rect x="327.90" y="331.00" width="10.10" height="2.05" fill="#6384d0"/>
<rect x="327.90" y="333.00" width="10.10" height="2.05" fill="#f6f4f5"/>
<rect x="327.90" y="335.00" width="10.10" height="2.05" fill="#b9c3e8"/>
<rect x="327.90" y="337.00" width="10.10" height="6.05" fill="#f6f4f5"/>
<rect x="327.90" y="343.00" width="10.10" height="2.05" fill="#2d55b5"/>
<rect x="327.90" y="345.00" width="10.10" height="2.05" fill="#6384d0"/>
<rect x="337.95" y="215.00" width="10.10" height="2.05" fill="#f6f4f5"/>
<rect x="337.95" y="217.00" width="10.10" height="4.05" fill="#b9c3e8"/>
<rect x="337.95" y="221.00" width="10.10" height="8.05" fill="#f6f4f5"/>
<rect x="337.95" y="229.00" width="10.10" height="4.05" fill="#f4c3ba"/>
<rect x="337.95" y="233.00" width="10.10" height="2.05" fill="#b9c3e8"/>
<rect x="337.95" y="235.00" width="10.10" height="2.05" fill="#6384d0"/>
<rect x="337.95" y="237.00" width="10.10" height="2.05" fill="#b9c3e8"/>
<rect x="337.95" y="239.00" width="10.10" height="4.05" fill="#f6f4f5"/>
<rect x="337.95" y="243.00" width="10.10" height="8.05" fill="#f4c3ba"/>
<rect x="337.95" y="251.00" width="10.10" height="2.05" fill="#f6f4f5"/>
<rect x="337.95" y="253.00" width="10.10" height="2.05" fill="#b9c3e8"/>
<rect x="337.95" y="255.00" width="10.10" height="2.05" fill="#f6f4f5"/>
<rect x="337.95" y="257.00" width="10.10" height="2.05" fill="#b9c3e8"/>
<rect x="337.95" y="259.00" width="10.10" height="6.05" fill="#f6f4f5"/>
<rect x="337.95" y="265.00" width="10.10" height="2.05" fill="#f4c3ba"/>
<rect x="337.95" y="267.00" width="10.10" height="10.05" fill="#f6f4f5"/>
<rect x="337.95" y="277.00" width="10.10" height="2.05" fill="#b9c3e8"/>
<rect x="337.95" y="279.00" width="10.10" height="2.05" fill="#6384d0"/>
<rect x="337.95" y="281.00" width="10.10" height="2.05" fill="#b9c3e8"/>
<rect x="337.95" y="283.00" width="10.10" height="4.05" fill="#f6f4f5"/>
<rect x="337.95" y="287.00" width="10.10" height="4.05" fill="#f4c3ba"/>
<rect x="337.95" y="291.00" width="10.10" height="2.05" fill="#b9c3e8"/>
<rect x="337.95" y="293.00" width="10.10" height="4.05" fill="#6384d0"/>
<rect x="337.95" y="297.00" width="10.10" height="2.05" fill="#2d55b5"/>
<rect x="337.95" y="299.00" width="10.10" height="2.05" fill="#6384d0"/>
<rect x="337.95" y="301.00" width="10.10" height="2.05" fill="#b9c3e8"/>
<rect x="337.95" y="303.00" width="10.10" height="6.05" fill="#6384d0"/>
<rect x="337.95" y="309.00" width="10.10" height="2.05" fill="#b9c3e8"/>
<rect x="337.95" y="311.00" width="10.10" height="10.05" fill="#6384d0"/>
<rect x="337.95" y="321.00" width="10.10" height="6.05" fill="#b9c3e8"/>
<rect x="337.95" y="327.00" width="10.10" height="2.05" fill="#f6f4f5"/>
<rect x="337.95" y="329.00" width="10.10" height="4.05" fill="#b9c3e8"/>
<rect x="337.95" y="333.00" width="10.10" height="8.05" fill="#f6f4f5"/>
<rect x="337.95" y="341.00" width="10.10" height="2.05" fill="#f4c3ba"/>
<rect x="337.95" y="343.00" width="10.10" height="4.05" fill="#f6f4f5"/>
<rect x="348.00" y="215.00" width="10.10" height="10.05" fill="#2d55b5"/>
<rect x="348.00" y="225.00" width="10.10" height="4.05" fill="#f6f4f5"/>
<rect x="348.00" y="229.00" width="10.10" height="4.05" fill="#b9c3e8"/>
<rect x="348.00" y="233.00" width="10.10" height="6.05" fill="#f6f4f5"/>
<rect x="348.00" y="239.00" width="10.10" height="4.05" fill="#b9c3e8"/>
<rect x="348.00" y="243.00" width="10.10" height="10.05" fill="#6384d0"/>
<rect x="348.00" y="253.00" width="10.10" height="4.05" fill="#2d55b5"/>
<rect x="348.00" y="257.00" width="10.10" height="2.05" fill="#6384d0"/>
<rect x="348.00" y="259.00" width="10.10" height="4.05" fill="#f6f4f5"/>
<rect x="348.00" y="263.00" width="10.10" height="4.05" fill="#6384d0"/>
<rect x="348.00" y="267.00" width="10.10" height="2.05" fill="#b9c3e8"/>
<rect x="348.00" y="269.00" width="10.10" height="2.05" fill="#f6f4f5"/>
<rect x="348.00" y="271.00" width="10.10" height="2.05" fill="#2d55b5"/>
<rect x="348.00" y="273.00" width="10.10" height="2.05" fill="#6384d0"/>
<rect x="348.00" y="275.00" width="10.10" height="8.05" fill="#b9c3e8"/>
<rect x="348.00" y="283.00" width="10.10" height="2.05" fill="#f6f4f5"/>
<rect x="348.00" y="285.00" width="10.10" height="2.05" fill="#b9c3e8"/>
<rect x="348.00" y="287.00" width="10.10" height="8.05" fill="#f6f4f5"/>
<rect x="348.00" y="295.00" width="10.10" height="2.05" fill="#f4c3ba"/>
<rect x="348.00" y="297.00" width="10.10" height="2.05" fill="#b9c3e8"/>
<rect x="348.00" y="299.00" width="10.10" height="2.05" fill="#f4c3ba"/>
<rect x="348.00" y="301.00" width="10.10" height="2.05" fill="#f6f4f5"/>
<rect x="348.00" y="303.00" width="10.10" height="2.05" fill="#f4c3ba"/>
<rect x="348.00" y="305.00" width="10.10" height="4.05" fill="#f6f4f5"/>
<rect x="348.00" y="309.00" width="10.10" height="2.05" fill="#b9c3e8"/>
<rect x="348.00" y="311.00" width="10.10" height="2.05" fill="#f6f4f5"/>
<rect x="348.00" y="313.00" width="10.10" height="4.05" fill="#f4c3ba"/>
<rect x="348.00" y="317.00" width="10.10" height="12.05" fill="#f6f4f5"/>
<rect x="348.00" y="329.00" width="10.10" height="2.05" fill="#b9c3e8"/>
<rect x="348.00" y="331.00" width="10.10" height="4.05" fill="#f6f4f5"/>
<rect x="348.00" y="335.00" width="10.10" height="4.05" fill="#b9c3e8"/>
<rect x="348.00" y="339.00" width="10.10" height="4.05" fill="#f4c3ba"/>
<rect x="348.00" y="343.00" width="10.10" height="4.05" fill="#e8786a"/>
<rect x="358.05" y="215.00" width="10.10" height="8.05" fill="#6384d0"/>
<rect x="358.05" y="223.00" width="10.10" height="4.05" fill="#2d55b5"/>
<rect x="358.05" y="227.00" width="10.10" height="2.05" fill="#b9c3e8"/>
<rect x="358.05" y="229.00" width="10.10" height="2.05" fill="#f6f4f5"/>
<rect x="358.05" y="231.00" width="10.10" height="6.05" fill="#6384d0"/>
<rect x="358.05" y="237.00" width="10.10" height="6.05" fill="#f6f4f5"/>
<rect x="358.05" y="243.00" width="10.10" height="4.05" fill="#b9c3e8"/>
<rect x="358.05" y="247.00" width="10.10" height="20.05" fill="#6384d0"/>
<rect x="358.05" y="267.00" width="10.10" height="2.05" fill="#b9c3e8"/>
<rect x="358.05" y="269.00" width="10.10" height="4.05" fill="#f6f4f5"/>
<rect x="358.05" y="273.00" width="10.10" height="6.05" fill="#b9c3e8"/>
<rect x="358.05" y="279.00" width="10.10" height="2.05" fill="#f4c3ba"/>
<rect x="358.05" y="281.00" width="10.10" height="2.05" fill="#6384d0"/>
<rect x="358.05" y="283.00" width="10.10" height="4.05" fill="#f6f4f5"/>
<rect x="358.05" y="287.00" width="10.10" height="2.05" fill="#f4c3ba"/>
<rect x="358.05" y="289.00" width="10.10" height="8.05" fill="#e8786a"/>
<rect x="358.05" y="297.00" width="10.10" height="6.05" fill="#f4c3ba"/>
<rect x="358.05" y="303.00" width="10.10" height="4.05" fill="#e8786a"/>
<rect x="358.05" y="307.00" width="10.10" height="2.05" fill="#d83e2d"/>
<rect x="358.05" y="309.00" width="10.10" height="2.05" fill="#e8786a"/>
<rect x="358.05" y="311.00" width="10.10" height="2.05" fill="#f4c3ba"/>
<rect x="358.05" y="313.00" width="10.10" height="2.05" fill="#e8786a"/>
<rect x="358.05" y="315.00" width="10.10" height="4.05" fill="#f4c3ba"/>
<rect x="358.05" y="319.00" width="10.10" height="10.05" fill="#d83e2d"/>
<rect x="358.05" y="329.00" width="10.10" height="2.05" fill="#e8786a"/>
<rect x="358.05" y="331.00" width="10.10" height="2.05" fill="#d83e2d"/>
<rect x="358.05" y="333.00" width="10.10" height="2.05" fill="#e8786a"/>
<rect x="358.05" y="335.00" width="10.10" height="6.05" fill="#f4c3ba"/>
<rect x="358.05" y="341.00" width="10.10" height="2.05" fill="#f6f4f5"/>
<rect x="358.05" y="343.00" width="10.10" height="4.05" fill="#6384d0"/>
<rect x="368.10" y="215.00" width="10.10" height="2.05" fill="#f6f4f5"/>
<rect x="368.10" y="217.00" width="10.10" height="2.05" fill="#b9c3e8"/>
<rect x="368.10" y="219.00" width="10.10" height="2.05" fill="#f6f4f5"/>
<rect x="368.10" y="221.00" width="10.10" height="6.05" fill="#f4c3ba"/>
<rect x="368.10" y="227.00" width="10.10" height="4.05" fill="#f6f4f5"/>
<rect x="368.10" y="231.00" width="10.10" height="2.05" fill="#f4c3ba"/>
<rect x="368.10" y="233.00" width="10.10" height="4.05" fill="#f6f4f5"/>
<rect x="368.10" y="237.00" width="10.10" height="14.05" fill="#6384d0"/>
<rect x="368.10" y="251.00" width="10.10" height="6.05" fill="#b9c3e8"/>
<rect x="368.10" y="257.00" width="10.10" height="2.05" fill="#f6f4f5"/>
<rect x="368.10" y="259.00" width="10.10" height="6.05" fill="#6384d0"/>
<rect x="368.10" y="265.00" width="10.10" height="2.05" fill="#2d55b5"/>
<rect x="368.10" y="267.00" width="10.10" height="2.05" fill="#6384d0"/>
<rect x="368.10" y="269.00" width="10.10" height="2.05" fill="#f4c3ba"/>
<rect x="368.10" y="271.00" width="10.10" height="4.05" fill="#e8786a"/>
<rect x="368.10" y="275.00" width="10.10" height="12.05" fill="#d83e2d"/>
<rect x="368.10" y="287.00" width="10.10" height="2.05" fill="#f4c3ba"/>
<rect x="368.10" y="289.00" width="10.10" height="2.05" fill="#f6f4f5"/>
<rect x="368.10" y="291.00" width="10.10" height="8.05" fill="#6384d0"/>
<rect x="368.10" y="299.00" width="10.10" height="4.05" fill="#2d55b5"/>
<rect x="368.10" y="303.00" width="10.10" height="8.05" fill="#6384d0"/>
<rect x="368.10" y="311.00" width="10.10" height="8.05" fill="#2d55b5"/>
<rect x="368.10" y="319.00" width="10.10" height="6.05" fill="#b9c3e8"/>
<rect x="368.10" y="325.00" width="10.10" height="4.05" fill="#6384d0"/>
<rect x="368.10" y="329.00" width="10.10" height="4.05" fill="#b9c3e8"/>
<rect x="368.10" y="333.00" width="10.10" height="2.05" fill="#f6f4f5"/>
<rect x="368.10" y="335.00" width="10.10" height="6.05" fill="#2d55b5"/>
<rect x="368.10" y="341.00" width="10.10" height="2.05" fill="#f6f4f5"/>
<rect x="368.10" y="343.00" width="10.10" height="4.05" fill="#b9c3e8"/>
<rect x="378.15" y="215.00" width="10.10" height="4.05" fill="#d83e2d"/>
<rect x="378.15" y="219.00" width="10.10" height="2.05" fill="#e8786a"/>
<rect x="378.15" y="221.00" width="10.10" height="6.05" fill="#f4c3ba"/>
<rect x="378.15" y="227.00" width="10.10" height="2.05" fill="#f6f4f5"/>
<rect x="378.15" y="229.00" width="10.10" height="4.05" fill="#e8786a"/>
<rect x="378.15" y="233.00" width="10.10" height="4.05" fill="#f6f4f5"/>
<rect x="378.15" y="237.00" width="10.10" height="2.05" fill="#f4c3ba"/>
<rect x="378.15" y="239.00" width="10.10" height="2.05" fill="#e8786a"/>
<rect x="378.15" y="241.00" width="10.10" height="2.05" fill="#d83e2d"/>
<rect x="378.15" y="243.00" width="10.10" height="14.05" fill="#f4c3ba"/>
<rect x="378.15" y="257.00" width="10.10" height="6.05" fill="#f6f4f5"/>
<rect x="378.15" y="263.00" width="10.10" height="6.05" fill="#6384d0"/>
<rect x="378.15" y="269.00" width="10.10" height="2.05" fill="#b9c3e8"/>
<rect x="378.15" y="271.00" width="10.10" height="2.05" fill="#f6f4f5"/>
<rect x="378.15" y="273.00" width="10.10" height="4.05" fill="#6384d0"/>
<rect x="378.15" y="277.00" width="10.10" height="6.05" fill="#b9c3e8"/>
<rect x="378.15" y="283.00" width="10.10" height="4.05" fill="#f6f4f5"/>
<rect x="378.15" y="287.00" width="10.10" height="12.05" fill="#6384d0"/>
<rect x="378.15" y="299.00" width="10.10" height="6.05" fill="#b9c3e8"/>
<rect x="378.15" y="305.00" width="10.10" height="4.05" fill="#6384d0"/>
<rect x="378.15" y="309.00" width="10.10" height="4.05" fill="#b9c3e8"/>
<rect x="378.15" y="313.00" width="10.10" height="2.05" fill="#f6f4f5"/>
<rect x="378.15" y="315.00" width="10.10" height="2.05" fill="#b9c3e8"/>
<rect x="378.15" y="317.00" width="10.10" height="2.05" fill="#f6f4f5"/>
<rect x="378.15" y="319.00" width="10.10" height="4.05" fill="#6384d0"/>
<rect x="378.15" y="323.00" width="10.10" height="2.05" fill="#b9c3e8"/>
<rect x="378.15" y="325.00" width="10.10" height="2.05" fill="#f6f4f5"/>
<rect x="378.15" y="327.00" width="10.10" height="2.05" fill="#f4c3ba"/>
<rect x="378.15" y="329.00" width="10.10" height="2.05" fill="#f6f4f5"/>
<rect x="378.15" y="331.00" width="10.10" height="2.05" fill="#2d55b5"/>
<rect x="378.15" y="333.00" width="10.10" height="4.05" fill="#f6f4f5"/>
<rect x="378.15" y="337.00" width="10.10" height="2.05" fill="#b9c3e8"/>
<rect x="378.15" y="339.00" width="10.10" height="2.05" fill="#f6f4f5"/>
<rect x="378.15" y="341.00" width="10.10" height="6.05" fill="#b9c3e8"/></g>
<path d="M307.40 276.00H306.41V278.00H307.40M307.40 318.00H306.13V320.00H307.40M307.40 226.00H306.78V228.00H307.40M307.40 268.00H306.02V270.00H307.40M307.40 254.00H305.63V256.00H307.40M307.40 322.00H306.79V324.00H307.40M307.40 290.00H306.04V292.00H307.40M307.40 252.00H303.89V255.00H305.63M307.40 336.00H306.71V338.00H307.40M307.40 244.00H305.41V246.00H307.40M307.40 218.00H305.59V220.00H307.40M307.40 340.00H306.47V342.00H307.40M307.40 260.00H306.58V262.00H307.40M307.40 266.00H305.05V269.00H306.02M307.40 332.00H305.38V334.00H307.40M307.40 280.00H306.74V282.00H307.40M307.40 314.00H306.35V316.00H307.40M307.40 284.00H306.09V286.00H307.40M307.40 242.00H304.50V245.00H305.41M307.40 264.00H304.39V267.50H305.05M306.35 315.00H304.30V319.00H306.13M307.40 216.00H303.65V219.00H305.59M307.40 326.00H305.78V328.00H307.40M306.41 277.00H304.56V281.00H306.74M307.40 312.00H303.48V317.00H304.30M307.40 302.00H305.95V304.00H307.40M305.95 303.00H304.72V306.00H307.40M307.40 258.00H305.58V261.00H306.58M307.40 224.00H306.13V227.00H306.78M306.79 323.00H304.28V327.00H305.78M304.56 279.00H303.23V285.00H306.09M305.38 333.00H303.77V337.00H306.71M304.50 243.50H302.43V248.00H307.40M305.58 259.50H303.77V265.75H304.39M306.47 341.00H305.64V344.00H307.40M307.40 298.00H306.19V300.00H307.40M307.40 234.00H306.32V236.00H307.40M303.48 314.50H302.04V325.00H304.28M304.72 304.50H303.33V308.00H307.40M303.89 253.50H303.09V262.62H303.77M307.40 222.00H304.51V225.50H306.13M307.40 250.00H301.38V258.06H303.09M302.04 319.75H300.17V330.00H307.40M307.40 232.00H305.29V235.00H306.32M307.40 240.00H301.45V245.75H302.43M303.65 217.50H303.06V223.75H304.51M305.29 233.50H303.37V238.00H307.40M306.04 291.00H304.38V294.00H307.40M307.40 296.00H305.64V299.00H306.19M304.38 292.50H303.35V297.50H305.64M303.37 235.75H299.72V242.88H301.45M303.23 282.00H301.37V288.00H307.40M307.40 310.00H298.59V324.88H300.17M307.40 230.00H298.75V239.31H299.72M307.40 272.00H305.49V274.00H307.40M301.37 285.00H300.64V295.00H303.35M298.59 317.44H297.14V335.00H303.77M301.38 254.03H300.34V273.00H305.49M303.06 220.62H297.66V234.66H298.75M303.33 306.25H297.00V326.22H297.14M300.64 290.00H297.00V316.23H297.00M297.66 227.64H297.00V263.52H300.34M297.00 245.58H297.00V303.12H297.00M297.00 274.35H297.00V342.50H305.64M297.00 308.42H297.00V346.00H307.40" fill="none" stroke="#d2d2d2" stroke-width="0.45"/>
<path d="M332.93 215.00V212.00H342.98V215.00M322.88 215.00V210.70H337.95V212.00M312.82 215.00V206.40H330.41V210.70M353.02 215.00V210.20H363.07V215.00M373.12 215.00V206.40H383.17V215.00M358.05 210.20V203.80H378.15V206.40M321.62 206.40V202.60H368.10V203.80" fill="none" stroke="#c2c2c2" stroke-width="0.6"/>
<text x="264.9" y="202.0" font-size="11.5" font-weight="bold" font-style="normal" fill="#111" text-anchor="start">D</text>
<text x="0" y="0" font-size="7.8" font-style="italic" fill="#1c1c1c" stroke="#1c1c1c" stroke-width="0.2" text-anchor="middle" transform="translate(288.3,278.7) rotate(-90)">PD-1 fingerprint</text>
<text x="0" y="0" font-size="7.7" font-weight="bold" fill="#1a1a1a" transform="translate(310.32,349.80) rotate(90)">FL</text>
<text x="0" y="0" font-size="7.7" font-weight="bold" fill="#1a1a1a" transform="translate(320.37,349.80) rotate(90)">RLN</text>
<text x="0" y="0" font-size="7.7" font-weight="bold" fill="#1a1a1a" transform="translate(330.42,349.80) rotate(90)">RLN</text>
<text x="0" y="0" font-size="7.7" font-weight="bold" fill="#1a1a1a" transform="translate(340.47,349.80) rotate(90)">RLN</text>
<text x="0" y="0" font-size="7.7" font-weight="bold" fill="#1a1a1a" transform="translate(350.52,349.80) rotate(90)">RLN</text>
<text x="0" y="0" font-size="7.7" font-weight="bold" fill="#1a1a1a" transform="translate(360.57,349.80) rotate(90)">FL</text>
<text x="0" y="0" font-size="7.7" font-weight="bold" fill="#1a1a1a" transform="translate(370.62,349.80) rotate(90)">RLN</text>
<text x="0" y="0" font-size="7.7" font-weight="bold" fill="#1a1a1a" transform="translate(380.67,349.80) rotate(90)">FL</text>
<path d="M415.27 313.45H487.17M421.28 319.30L457.08 284.20M421.23 307.60H493.13M433.27 319.30L469.07 284.20M427.20 301.75H499.10M445.25 319.30L481.05 284.20M433.17 295.90H505.07M457.23 319.30L493.03 284.20M439.13 290.05H511.03M469.22 319.30L505.02 284.20" fill="none" stroke="#ebebf1" stroke-width="0.5"/>
<path d="M409.3 247.6V319.3H481.2L517 284.2V212.3H445.1ZM445.1 212.3V284.2H517M445.1 284.2L409.3 319.3" fill="none" stroke="#1e1e1e" stroke-width="1.7" stroke-linejoin="miter"/>
<circle cx="449.7" cy="260.4" r="1.6" fill="#c8282c"/>
<circle cx="437.3" cy="267.6" r="1.6" fill="#c8282c"/>
<circle cx="471.6" cy="266.8" r="1.6" fill="#c8282c"/>
<circle cx="488.3" cy="274.6" r="1.6" fill="#c8282c"/>
<circle cx="473.3" cy="280.3" r="1.6" fill="#c8282c"/>
<circle cx="441.3" cy="244.9" r="1.6" fill="#1f9450"/>
<circle cx="483.4" cy="251.7" r="1.6" fill="#1f9450"/>
<circle cx="455.4" cy="285.4" r="1.6" fill="#1f9450"/>
<circle cx="493.4" cy="219.2" r="1.35" fill="#c8282c"/>
<text x="498.2" y="221.29999999999998" font-size="6" font-weight="normal" font-style="normal" fill="#262626" stroke="#262626" stroke-width="0.22" text-anchor="start">RLN</text>
<circle cx="493.4" cy="228.7" r="1.35" fill="#1f9450"/>
<text x="498.2" y="230.79999999999998" font-size="6" font-weight="normal" font-style="normal" fill="#262626" stroke="#262626" stroke-width="0.22" text-anchor="start">FL</text>
<text x="407.3" y="338.9" font-size="7.85" font-weight="normal" font-style="normal" fill="#333" stroke="#333" stroke-width="0.18" text-anchor="start">Intra-group distance RLN:</text>
<text x="500.7" y="338.9" font-size="7.85" font-weight="normal" font-style="normal" fill="#333" stroke="#333" stroke-width="0.18" text-anchor="start">3.18</text>
<text x="407.3" y="348.29999999999995" font-size="7.85" font-weight="normal" font-style="normal" fill="#333" stroke="#333" stroke-width="0.18" text-anchor="start">Intra-group distance FL:</text>
<text x="500.7" y="348.29999999999995" font-size="7.85" font-weight="normal" font-style="normal" fill="#333" stroke="#333" stroke-width="0.18" text-anchor="start">3.40</text>
<text x="407.3" y="357.7" font-size="7.85" font-weight="normal" font-style="normal" fill="#333" stroke="#333" stroke-width="0.18" text-anchor="start">Inter-group distance:</text>
<text x="500.7" y="357.7" font-size="7.85" font-weight="normal" font-style="normal" fill="#333" stroke="#333" stroke-width="0.18" text-anchor="start">3.28</text>
</svg>
</body></html>
